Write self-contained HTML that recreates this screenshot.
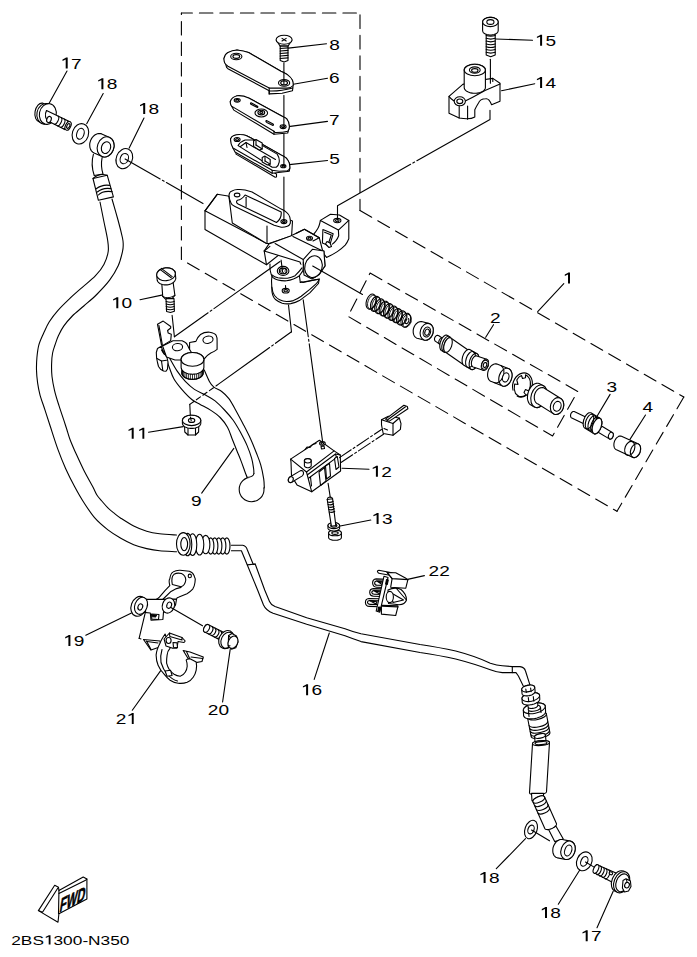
<!DOCTYPE html>
<html><head><meta charset="utf-8"><style>
html,body{margin:0;padding:0;background:#fff;}
svg{display:block;}
text{font-family:"Liberation Sans",sans-serif;fill:#000;stroke:none;}
.d{stroke-dasharray:13.5 7;}
.c{stroke-dasharray:40 2.5 2.5 2.5;}
.t{stroke-width:0.8;}
.n{stroke:none;}
.h{stroke-dasharray:5 3;}
</style></head><body>
<svg width="697" height="957" viewBox="0 0 697 957" fill="none" stroke="#000" stroke-width="1.1" stroke-linejoin="round" stroke-linecap="round">
<polyline points="181.4,13 360,13" stroke-dasharray="13.5 7" stroke-dashoffset="2.5"/>
<polyline points="360,13 360,210.5" stroke-dasharray="13.5 7" stroke-dashoffset="18.6"/>
<polyline points="360,210.5 683.8,397" stroke-dasharray="13.5 7" stroke-dashoffset="0"/>
<polyline points="683.8,397 617,511.3" stroke-dasharray="13.5 7" stroke-dashoffset="0"/>
<polyline points="181.4,259.5 617,511.3" stroke-dasharray="13.5 7" stroke-dashoffset="13.5"/>
<polyline points="181.4,13 181.4,259.5" stroke-dasharray="13.5 7" stroke-dashoffset="12"/>
<polyline points="370.1,273.1 577.7,391.4 552.6,436 348,316.3 370.1,273.1" class="d"/>
<path d="M100,202 C100.7,205.3 102.7,215.7 104,222 C105.3,228.3 106.9,235.1 107.6,240 C108.3,244.9 108.8,247.4 108.2,251.5 C107.6,255.6 106.1,260.3 103.9,264.4 C101.8,268.5 98.9,272.1 95.3,275.9 C91.7,279.7 86.6,283.5 82.3,287.3 C78,291.1 73.5,295 69.4,298.8 C65.4,302.6 61.4,306.5 58,310.3 C54.6,314.1 51.7,318 49.3,321.8 C46.9,325.6 45.5,329.1 43.7,333 C42,336.9 39.9,341 38.8,345.1 C37.7,349.2 37.3,353.5 36.9,357.7 C36.5,361.9 36.4,366 36.5,370.2 C36.6,374.4 37,378.6 37.6,382.8 C38.2,387 38.9,390.7 40.1,395.3 C41.4,399.9 43.4,405.1 45.1,410.4 C46.8,415.7 48.4,420.5 50.5,427 C52.6,433.5 55.4,442.4 57.9,449.4 C60.4,456.3 62.9,462.5 65.7,468.7 C68.5,474.9 71.7,481.2 74.7,486.8 C77.7,492.4 80.3,497.1 83.7,502.3 C87.1,507.5 91,513.6 95,518.2 C99,522.8 103.6,526.5 107.9,529.9 C112.2,533.2 116.5,535.8 120.8,538.3 C125.1,540.8 129.4,543 133.7,544.7 C138,546.4 142.4,547.6 146.7,548.6 C151,549.6 154.6,550.3 159.6,550.8 C164.6,551.3 173.7,551.6 176.5,551.8"/>
<path d="M112,199 C113,202.5 116.2,213.5 118,220 C119.8,226.5 121.6,233.8 122.5,238 C123.4,242.2 123.2,242.8 123.2,245 C123.2,247.2 123.3,248 122.5,251.5 C121.7,255 120.4,261 118.2,265.8 C116,270.6 113.2,275.4 109.6,280.2 C106,285 101,290.2 96.7,294.5 C92.4,298.8 87.9,302.4 83.8,306 C79.7,309.6 75.6,312.6 72.3,316 C69,319.4 66,322.9 63.7,326.1 C61.4,329.4 60,332.4 58.5,335.5 C57,338.6 56,342.1 55,345 C54,347.9 53.2,349.9 52.6,353 C52,356.1 51.7,360 51.6,363.9 C51.5,367.8 51.5,372.1 52,376.5 C52.5,380.9 53.4,385.5 54.5,390.3 C55.6,395.1 57.3,400.4 58.9,405.4 C60.5,410.4 62.5,416.3 63.9,420.4 C65.2,424.5 66,426.7 67,430 C68,433.3 68.9,436.6 70.2,440 C71.5,443.4 72.5,445.7 74.7,450.7 C77,455.7 80.7,464 83.7,470 C86.7,476 90.6,482.6 92.8,486.8 C95,491 95.4,492.6 96.9,495 C98.4,497.4 100,498.9 101.8,501 C103.6,503.1 106,506 107.9,507.9 C109.8,509.8 111.2,510.9 113.4,512.6 C115.6,514.3 117.4,516 120.8,518.2 C124.2,520.4 129.4,523.8 133.7,526 C138,528.2 142.4,529.9 146.7,531.2 C151,532.5 154.6,533.1 159.6,533.7 C164.6,534.3 173.7,534.8 176.5,535"/>
<path d="M231.4,545.2 L242.7,545.2 Q246,545.6 247.2,549.5 L253.3,564.5 L255.2,564 L264.7,590 L269.5,601.5 Q271,605 275,606.6 L306.7,617.8 L345,628.7 Q352,631.5 361,633.7 L420,644.5 Q440,647.5 455.7,651 Q475,656 490.3,663.2 Q497,665.5 502.3,665.8 L512.3,666.6 L520,666.6 Q524.4,667 525.5,671 L530.4,686.3"/>
<path d="M231.4,550.7 L241.4,550.7 L247.1,564.5 L257.6,590 L263.5,605 Q266,610.5 273.1,613.2 L306.7,624.2 L345,635.8 Q352,638.5 361,641.6 L420,652.5 Q440,655.5 455.7,659 Q475,664 490.3,669.8 Q497,672.4 502.3,672.6 L512.3,672.6 L516,672.6 L518.4,676 L523.4,686.3"/>
<line x1="512.3" y1="666.6" x2="512.3" y2="672.6"/>
<line x1="247.3" y1="564.9" x2="255.2" y2="564"/>
<path d="M67.7,57.6 L67.7,68.6 L65.7,68.6 L65.7,59.6 L62.5,60.9 L62.5,59.6 L65.4,58.1 L66,57.6Z" fill="#000" stroke="none"/>
<text transform="translate(71,68.6) scale(1.235,1)" font-size="15.45">7</text>
<path d="M103.4,78.2 L103.4,89.2 L101.4,89.2 L101.4,80.2 L98.2,81.5 L98.2,80.2 L101.1,78.7 L101.7,78.2Z" fill="#000" stroke="none"/>
<text transform="translate(106.7,89.2) scale(1.235,1)" font-size="15.45">8</text>
<path d="M145.2,102.9 L145.2,113.9 L143.2,113.9 L143.2,104.9 L140,106.2 L140,104.9 L142.9,103.4 L143.5,102.9Z" fill="#000" stroke="none"/>
<text transform="translate(148.5,113.9) scale(1.235,1)" font-size="15.45">8</text>
<text transform="translate(329.2,49.5) scale(1.235,1)" font-size="15.45">8</text>
<text transform="translate(329.1,82.6) scale(1.235,1)" font-size="15.45">6</text>
<text transform="translate(329.1,125.4) scale(1.235,1)" font-size="15.45">7</text>
<text transform="translate(329.3,163.6) scale(1.235,1)" font-size="15.45">5</text>
<path d="M542.1,34.8 L542.1,45.8 L540.1,45.8 L540.1,36.8 L536.9,38.1 L536.9,36.8 L539.8,35.3 L540.4,34.8Z" fill="#000" stroke="none"/>
<text transform="translate(545.4,45.8) scale(1.235,1)" font-size="15.45">5</text>
<path d="M542.1,76.9 L542.1,87.9 L540.1,87.9 L540.1,78.9 L536.9,80.2 L536.9,78.9 L539.8,77.4 L540.4,76.9Z" fill="#000" stroke="none"/>
<text transform="translate(545.4,87.9) scale(1.235,1)" font-size="15.45">4</text>
<path d="M570,272.6 L570,283.6 L568,283.6 L568,274.6 L564.8,275.9 L564.8,274.6 L567.7,273.1 L568.3,272.6Z" fill="#000" stroke="none"/>
<text transform="translate(490,323) scale(1.235,1)" font-size="15.45">2</text>
<text transform="translate(606.5,392) scale(1.235,1)" font-size="15.45">3</text>
<text transform="translate(642.4,411.7) scale(1.235,1)" font-size="15.45">4</text>
<path d="M118.3,297.2 L118.3,308.2 L116.3,308.2 L116.3,299.2 L113.1,300.5 L113.1,299.2 L116,297.7 L116.6,297.2Z" fill="#000" stroke="none"/>
<text transform="translate(121.6,308.2) scale(1.235,1)" font-size="15.45">0</text>
<path d="M133.7,427.8 L133.7,438.8 L131.7,438.8 L131.7,429.8 L128.5,431.1 L128.5,429.8 L131.4,428.3 L132,427.8Z" fill="#000" stroke="none"/>
<path d="M144.3,427.8 L144.3,438.8 L142.4,438.8 L142.4,429.8 L139.1,431.1 L139.1,429.8 L142,428.3 L142.6,427.8Z" fill="#000" stroke="none"/>
<text transform="translate(191.1,505.6) scale(1.235,1)" font-size="15.45">9</text>
<path d="M377.9,465.8 L377.9,476.8 L375.9,476.8 L375.9,467.8 L372.7,469.1 L372.7,467.8 L375.6,466.3 L376.2,465.8Z" fill="#000" stroke="none"/>
<text transform="translate(381.2,476.8) scale(1.235,1)" font-size="15.45">2</text>
<path d="M378.6,512.9 L378.6,523.9 L376.6,523.9 L376.6,514.9 L373.4,516.2 L373.4,514.9 L376.3,513.4 L376.9,512.9Z" fill="#000" stroke="none"/>
<text transform="translate(381.9,523.9) scale(1.235,1)" font-size="15.45">3</text>
<text transform="translate(428.6,575.6) scale(1.235,1)" font-size="15.45">2</text>
<text transform="translate(439.3,575.6) scale(1.235,1)" font-size="15.45">2</text>
<path d="M308.1,684.2 L308.1,695.2 L306.1,695.2 L306.1,686.2 L302.9,687.5 L302.9,686.2 L305.8,684.7 L306.4,684.2Z" fill="#000" stroke="none"/>
<text transform="translate(311.4,695.2) scale(1.235,1)" font-size="15.45">6</text>
<path d="M70.4,635.1 L70.4,646.1 L68.4,646.1 L68.4,637.1 L65.2,638.4 L65.2,637.1 L68.1,635.6 L68.7,635.1Z" fill="#000" stroke="none"/>
<text transform="translate(73.7,646.1) scale(1.235,1)" font-size="15.45">9</text>
<text transform="translate(207.8,715.3) scale(1.235,1)" font-size="15.45">2</text>
<text transform="translate(218.5,715.3) scale(1.235,1)" font-size="15.45">0</text>
<text transform="translate(115.8,724) scale(1.235,1)" font-size="15.45">2</text>
<path d="M133.7,713 L133.7,724 L131.8,724 L131.8,715 L128.5,716.3 L128.5,715 L131.4,713.5 L132,713Z" fill="#000" stroke="none"/>
<path d="M485.6,871.9 L485.6,882.9 L483.6,882.9 L483.6,873.9 L480.4,875.2 L480.4,873.9 L483.3,872.4 L483.9,871.9Z" fill="#000" stroke="none"/>
<text transform="translate(488.9,882.9) scale(1.235,1)" font-size="15.45">8</text>
<path d="M547,907.1 L547,918.1 L545,918.1 L545,909.1 L541.8,910.4 L541.8,909.1 L544.7,907.6 L545.3,907.1Z" fill="#000" stroke="none"/>
<text transform="translate(550.3,918.1) scale(1.235,1)" font-size="15.45">8</text>
<path d="M587.7,930.3 L587.7,941.3 L585.7,941.3 L585.7,932.3 L582.5,933.6 L582.5,932.3 L585.4,930.8 L586,930.3Z" fill="#000" stroke="none"/>
<text transform="translate(591,941.3) scale(1.235,1)" font-size="15.45">7</text>
<text transform="translate(11.2,944.6) scale(1.3,1)" font-size="13.3">2</text>
<text transform="translate(20.8,944.6) scale(1.3,1)" font-size="13.3">B</text>
<text transform="translate(32.4,944.6) scale(1.3,1)" font-size="13.3">S</text>
<path d="M50.5,935.2 L50.5,944.6 L48.7,944.6 L48.7,936.8 L45.8,938 L45.8,936.8 L48.4,935.6 L48.9,935.2Z" fill="#000" stroke="none"/>
<text transform="translate(53.5,944.6) scale(1.3,1)" font-size="13.3">3</text>
<text transform="translate(63.1,944.6) scale(1.3,1)" font-size="13.3">0</text>
<text transform="translate(72.8,944.6) scale(1.3,1)" font-size="13.3">0</text>
<text transform="translate(82.4,944.6) scale(1.3,1)" font-size="13.3">-</text>
<text transform="translate(88.1,944.6) scale(1.3,1)" font-size="13.3">N</text>
<text transform="translate(100.6,944.6) scale(1.3,1)" font-size="13.3">3</text>
<text transform="translate(110.2,944.6) scale(1.3,1)" font-size="13.3">5</text>
<text transform="translate(119.8,944.6) scale(1.3,1)" font-size="13.3">0</text>
<line x1="49" y1="103.5" x2="67" y2="71"/>
<line x1="86.7" y1="123.7" x2="103.2" y2="93.6"/>
<line x1="129.2" y1="148.1" x2="144" y2="118"/>
<line x1="288.3" y1="48.1" x2="326.5" y2="43.7"/>
<line x1="293.3" y1="84.2" x2="327.5" y2="78.2"/>
<line x1="290.3" y1="126.4" x2="327.5" y2="121.4"/>
<line x1="289.3" y1="164.6" x2="327.5" y2="160.5"/>
<line x1="495.8" y1="39" x2="532.5" y2="40.2"/>
<line x1="501.5" y1="90.7" x2="534.8" y2="83.8"/>
<line x1="140" y1="299.7" x2="161.8" y2="295.1"/>
<line x1="148.5" y1="432.2" x2="183.3" y2="426.6"/>
<line x1="201.7" y1="493.1" x2="233.8" y2="448.4"/>
<line x1="342.1" y1="468.2" x2="369" y2="469.3"/>
<line x1="338.9" y1="526.3" x2="370.8" y2="520"/>
<line x1="407.6" y1="579.4" x2="424.4" y2="575.6"/>
<line x1="314.2" y1="679.4" x2="329.3" y2="633"/>
<line x1="85.8" y1="635.3" x2="131.5" y2="612.9"/>
<line x1="230.2" y1="649.3" x2="222.6" y2="702"/>
<line x1="132.3" y1="710.2" x2="160.7" y2="670.6"/>
<line x1="496.3" y1="868.7" x2="525.5" y2="838.7"/>
<line x1="558.3" y1="904.2" x2="579.6" y2="870.2"/>
<line x1="597" y1="927.8" x2="613.2" y2="891.2"/>
<line x1="610.1" y1="394.4" x2="595.4" y2="419"/>
<line x1="645.5" y1="415" x2="629.8" y2="439.6"/>
<ellipse cx="41" cy="112.5" rx="6" ry="9.5" fill="#fff" transform="rotate(10 41 112.5)"/>
<ellipse cx="45.3" cy="113.8" rx="8.4" ry="10.4" fill="#fff" transform="rotate(12 45.3 113.8)"/>
<ellipse cx="47.8" cy="114" rx="8.4" ry="10.4" fill="#fff" transform="rotate(12 47.8 114)"/>
<polygon points="46.5,110.6 69.9,121.7 71.3,126 64.8,129.6 50.9,122.6 45.6,116.9" class="n" fill="#fff"/>
<line x1="46.5" y1="110.6" x2="69.9" y2="121.7"/>
<line x1="50.9" y1="122.6" x2="64.8" y2="129.6"/>
<path d="M46.5,110.6 Q44.8,113.5 45.6,117 Q47,121.5 50.9,122.6"/>
<ellipse cx="49" cy="119.5" rx="2.2" ry="3.2" fill="#fff" transform="rotate(20 49 119.5)"/>
<path d="M58.2,116.2 A2,4.5 25.4 0 1 54.4,124.3"/>
<path d="M61.3,117.7 A2,4.5 25.4 0 1 57.5,125.8"/>
<path d="M64.4,119.2 A2,4.5 25.4 0 1 60.6,127.3"/>
<path d="M67.3,120.6 A2,4.5 25.4 0 1 63.5,128.7"/>
<ellipse cx="68.1" cy="125.9" rx="2.6" ry="4.6" fill="#fff" transform="rotate(25.4 68.1 125.9)"/>
<ellipse cx="68.3" cy="126" rx="1.4" ry="2.5" fill="#fff" transform="rotate(25.4 68.3 126)"/>
<ellipse cx="80.4" cy="133.8" rx="8.1" ry="10.4" fill="#fff" transform="rotate(18 80.4 133.8)"/>
<ellipse cx="80.4" cy="133.8" rx="3.6" ry="5.6" fill="#fff" transform="rotate(18 80.4 133.8)"/>
<polygon points="89.7,144.7 89.8,143.4 90.1,142.1 90.5,140.8 91,139.6 91.7,138.4 92.4,137.3 93.3,136.3 94.2,135.5 95.2,134.8 96.3,134.2 97.4,133.8 98.5,133.6 99.6,133.5 100.7,133.6 101.7,133.9 109.1,137.2 110.1,137.7 111,138.3 111.8,139 112.5,139.9 113.1,140.9 113.5,142 113.9,143.2 114,144.5 114.1,145.8 114,147.1 113.7,148.4 113.3,149.7 112.8,150.9 112.1,152.1 111.4,153.2 110.5,154.2 109.6,155 108.6,155.7 107.5,156.3 106.4,156.7 105.3,156.9 104.2,157 103.1,156.9 102.1,156.6 94.7,153.3 93.7,152.8 92.8,152.2 92,151.5 91.3,150.6 90.7,149.6 90.3,148.5 89.9,147.3 89.8,146" fill="#fff"/>
<ellipse cx="105.6" cy="146.9" rx="8.2" ry="10.3" fill="#fff" transform="rotate(20 105.6 146.9)"/>
<ellipse cx="106" cy="147.6" rx="4.5" ry="6" fill="#fff" transform="rotate(20 106 147.6)"/>
<path d="M93.4,154.3 Q90.5,164 94.2,175.5 L103,174 Q100.5,166 102.1,157.6"/>
<polygon points="93,178.5 107.2,175.2 113.4,196.9 98.4,200.3" fill="#fff"/>
<path d="M93,178.5 Q99,173 107.2,175.2"/>
<path d="M96.2,188.8 Q102.5,184.2 109.6,185.4"/>
<path d="M97.32000000000001,192.0 Q102.5,187.39999999999998 110.88,188.6"/>
<path d="M98.37,195.0 Q102.5,190.39999999999998 112.08,191.6"/>
<ellipse cx="124.3" cy="158.6" rx="8" ry="10.4" fill="#fff" transform="rotate(22 124.3 158.6)"/>
<ellipse cx="124.3" cy="158.6" rx="4" ry="5.3" fill="#fff" transform="rotate(22 124.3 158.6)"/>
<polyline points="125.1,158.9 203,203.6" stroke-dasharray="40.4 2.6 2 2.6 92.2 1"/>
<polygon points="224,58.4 226.6,67.4 227.9,68.7 269.2,90.7 269.2,93.9 282.1,93.3 292.5,90.7 293.1,85.5 292.5,80.4 287.3,74.6 280.9,71.3 248.6,52.6 237,50 227.9,52.6" fill="#fff"/>
<path d="M224,58.4 Q225,54 227.9,52.6 Q232,50 237,50 Q244,50.5 248.6,52.6 L280.9,71.3 Q285,73 287.3,74.6 Q291.5,77.5 292.5,80.4 Q293.5,83.5 293.1,85.5 Q291,88 287.3,88.1 L269.2,88.1 L227.9,66.2 Q225,64 224.7,62.9 Q223.8,60.5 224,58.4 Z" fill="#fff"/>
<line x1="269.2" y1="88.1" x2="269.2" y2="93.9"/>
<path d="M269.2,91 Q280,91.5 292.8,88"/>
<ellipse cx="236.3" cy="56.5" rx="5.6" ry="3.2" fill="#fff"/>
<ellipse cx="236.3" cy="56.5" rx="3.4" ry="1.9" fill="#fff"/>
<ellipse cx="284.1" cy="82.9" rx="5.6" ry="3.3" fill="#fff"/>
<ellipse cx="284.1" cy="82.9" rx="3.4" ry="2" fill="#fff"/>
<polygon points="230.3,101.5 231.5,106.1 233.8,110.1 274,134.2 287.7,133 289.4,126.7 286.6,118.7 282.6,116.4 248.7,98 237.2,95.7" fill="#fff"/>
<path d="M230.3,101.5 Q231.5,97 237.2,95.7 Q243,95.2 248.7,98 L282.6,116.4 Q285.5,117.5 286.6,118.7 Q289.5,122 289.4,126.7 Q289,130 287.7,131.3 Q283,132.6 275.1,132.5 L274,131.3 L231.5,106.1 Q230,104 230.3,101.5 Z" fill="#fff"/>
<line x1="274" y1="131.3" x2="274" y2="134.2"/>
<ellipse cx="237.2" cy="100.3" rx="3" ry="1.8" fill="#fff"/>
<ellipse cx="237.2" cy="100.3" rx="1.5" ry="0.9" fill="#fff"/>
<ellipse cx="283.1" cy="126.7" rx="3" ry="1.9" fill="#fff"/>
<ellipse cx="283.1" cy="126.7" rx="1.5" ry="0.9" fill="#fff"/>
<ellipse cx="261.3" cy="113" rx="6.3" ry="4" fill="#fff"/>
<ellipse cx="261.3" cy="112.6" rx="3.4" ry="2.3" fill="#fff"/>
<ellipse cx="261.3" cy="112.4" rx="1.5" ry="1" fill="#fff"/>
<path d="M251,102.8 L257,106 Q258.6,107 257.4,107.6 L251.4,104.6 Q249.8,103.4 251,102.8Z"/>
<path d="M266.4,120.6 L272.6,123.8 Q274.2,124.8 273,125.4 L266.8,122.4 Q265.2,121.2 266.4,120.6Z"/>
<polygon points="236,154.1 275.2,177.2 276.5,177 276.5,174 236,151" fill="#fff"/>
<polygon points="230.5,139 233,148.1 235,152.1 272.2,173.2 289.3,171.2 289.8,168.2 289.3,163.1 286.3,158.1 281.2,155.1 251.1,138 246.1,135.5 240.1,134.5 234,135.5" fill="#fff"/>
<path d="M230.5,139 Q231.5,136 234,135.5 Q237,134.3 240.1,134.5 Q243.5,134.6 246.1,135.5 L251.1,138 L281.2,155.1 Q284.5,156.5 286.3,158.1 Q288.5,160.5 289.3,163.1 Q290,166 289.8,168.2 Q289,170.3 287.3,170.7 L279.2,171.2 L272.2,170.2 L233,148.1 Q230.5,144 230.5,139 Z" fill="#fff"/>
<line x1="272.2" y1="170.2" x2="272.2" y2="173.2"/>
<path d="M238.1,145.6 Q240.5,141.5 245.1,140 L253.1,140 L277.2,154.1 Q279.8,158 279.2,162.1 Q278.5,165.8 276.2,167.2 L272.2,167.2 Z" fill="#fff"/>
<polyline points="240.5,146.5 246,142.5 247,147.5"/>
<line x1="246" y1="142.5" x2="275.5" y2="159.5"/>
<polygon points="253.6,141 256,139.5 262.2,143 262.2,149 259.5,150.1 253.6,146.5" fill="#fff"/>
<line x1="256" y1="145" x2="262.2" y2="149"/>
<line x1="256" y1="145" x2="256" y2="140"/>
<polygon points="262.2,157.5 265,156.1 270.2,159.5 270.2,164.1 267.5,165 262.2,162" fill="#fff"/>
<line x1="265" y1="161" x2="270.2" y2="164.1"/>
<line x1="265" y1="161" x2="265" y2="156.5"/>
<ellipse cx="237.1" cy="139.5" rx="3" ry="2" fill="#fff"/>
<ellipse cx="237.1" cy="139.5" rx="1.5" ry="1" fill="#fff"/>
<ellipse cx="283.3" cy="166.2" rx="2.6" ry="1.6" fill="#fff"/>
<ellipse cx="283.3" cy="166.2" rx="1.2" ry="0.8" fill="#fff"/>
<polygon points="276.3,40.2 291.8,40.2 288,46.1 280.2,46.1" fill="#fff"/>
<polygon points="280.2,46.1 288,46.1 288,60.5 284.1,62 280.2,60.5" fill="#fff"/>
<line x1="280.2" y1="48.5" x2="288" y2="47.9"/>
<line x1="280.2" y1="51" x2="288" y2="50.4"/>
<line x1="280.2" y1="53.5" x2="288" y2="52.9"/>
<line x1="280.2" y1="56" x2="288" y2="55.4"/>
<line x1="280.2" y1="58.5" x2="288" y2="57.9"/>
<ellipse cx="284.1" cy="39.7" rx="8" ry="4.5" fill="#fff"/>
<line x1="282" y1="38.4" x2="286.2" y2="41"/>
<line x1="282" y1="41" x2="286.2" y2="38.4"/>
<path d="M320.4,220.4 L330.5,214.3 L339.4,215 L348.8,220.4 L348.8,238.7 Q347,243 345.2,245.2 Q341.5,249 337.3,251.6 Q332,255 326.5,257.4 L318,246 L313.6,234.4 Q316.5,230.8 317.5,229 Q319.3,226.5 320.4,220.4 Z" fill="#fff"/>
<polyline points="320.4,220.4 338.4,230.1 348.8,220.4"/>
<path d="M338.4,230.1 L338.7,235.8 Q337.5,239 335.8,240.9 Q334,243 332.3,244.1"/>
<ellipse cx="337.3" cy="220.6" rx="3.6" ry="2.2" fill="#fff"/>
<ellipse cx="337.3" cy="220.6" rx="1.8" ry="1.1" fill="#fff"/>
<polygon points="322.9,229.5 333.2,233.7 329.6,245.9 322.4,243" fill="#fff"/>
<polyline points="324.6,232.2 331.3,235 328.5,243.2"/>
<polygon points="325.5,244 327,241.5 330,243 331.5,246.5 329,247.5" fill="#fff"/>
<polygon points="217.2,194.3 228,196 290,230 290,246 266.5,264.8 205,229.5 205,210.8" fill="#fff"/>
<line x1="205" y1="210.8" x2="266" y2="243"/>
<polyline points="217.2,194.3 205,210.8"/>
<polygon points="229,197 232.3,223 266.5,243.5 268.9,243.5 291.6,236 292.5,221" fill="#fff"/>
<line x1="267" y1="226" x2="267" y2="243.3"/>
<path d="M229,195 Q229.5,191.5 232,191 Q235,189.3 238.1,189.5 Q242,189.3 245.1,190 L252.1,192 L281.2,209.1 Q284.5,210.5 286.3,212.1 Q289.3,214.5 289.8,217.1 Q290.6,220.5 290.3,223.2 Q289.5,225.5 287.3,226.2 Q284,227.5 281.2,227.2 L274.2,225.2 L235,206.6 Q231.5,205 231,203.1 Q229,199 229,195 Z" fill="#fff"/>
<path d="M245.1,195 L281.2,212.1 Q281.8,218.5 276.5,222.5 L238.1,204.1 Q235.3,202 237.5,200.2 Q241.8,199.8 245.1,195 Z" fill="#fff"/>
<line x1="246.1" y1="197.3" x2="246.1" y2="206.6"/>
<ellipse cx="237.1" cy="195" rx="2.8" ry="1.9" fill="#fff"/>
<ellipse cx="283.9" cy="221.6" rx="3" ry="2" fill="#fff"/>
<ellipse cx="283.9" cy="221.6" rx="1.4" ry="1" fill="#fff"/>
<polygon points="264.2,251 268.8,244.1 290.6,236.1 296.3,233.2 304.4,229.2 319.3,237.8 322.7,251 323.9,251 325,265.9 319.3,274 303.2,272 300,262" fill="#fff"/>
<line x1="275.1" y1="243.5" x2="303.2" y2="259.6"/>
<line x1="292.9" y1="236.6" x2="322.7" y2="251"/>
<line x1="264.2" y1="251" x2="266.5" y2="264.8"/>
<line x1="264.2" y1="251" x2="269.9" y2="246.4"/>
<polyline points="296.3,233.2 304.4,229.2 319.3,237.8 313,241"/>
<ellipse cx="309.5" cy="238.2" rx="3" ry="2" fill="#fff"/>
<ellipse cx="309.5" cy="238.2" rx="1.5" ry="1" fill="#fff"/>
<polygon points="303.2,259.6 312.4,249.3 323.9,251 325,265.9 319.3,274.5 312,279 304,275" fill="#fff"/>
<ellipse cx="313.5" cy="266.6" rx="8.6" ry="11" fill="#fff" transform="rotate(15 313.5 266.6)"/>
<path d="M271.5,280.8 L272,292 Q273,297.5 275.5,299.5 Q278.5,302 282.2,303.2 Q286,304.3 290.8,303.6 Q295.5,302.8 299.4,300.6 L309.8,292.9 L318.5,283.5 L319.2,279.1 L300.3,282.5 L299.4,275.7 L272,276 Z" fill="#fff"/>
<path d="M271.8,287 Q272.5,292.5 274.5,295.5 Q277,298.5 279.6,299.8 Q283,301.5 286.5,301.5 Q290,301.5 293.4,300.6 Q297.5,299 301.2,296.3 L309.8,289.4 L316.6,283.4 Q318.5,281 319.2,279.1"/>
<path d="M300.3,282.5 Q301.5,281 303,282.5 L316.5,279.5"/>
<ellipse cx="285.7" cy="290.7" rx="3.5" ry="2.3" fill="#fff"/>
<ellipse cx="285.7" cy="290.7" rx="1.8" ry="1.1" fill="#fff"/>
<line x1="285.7" y1="289.5" x2="285.5" y2="285.5"/>
<path d="M270.2,270.5 Q271,275 272.7,277.4 Q275,279.5 277.9,280 Q282,281 286.5,280.8 Q290,280.5 293.4,279.1 Q297,277.5 299.4,275.7 Q301.5,273 302.9,270.5 Q303.5,268 303.3,265.3 L281,259.5 L270,266 Z" class="n" fill="#fff"/>
<path d="M270,264 Q269.8,267.5 270.2,270.5 Q271,275 272.7,277.4 Q275,279.5 277.9,280 Q282,281 286.5,280.8 Q290,280.5 293.4,279.1 Q297,277.5 299.4,275.7 Q301.5,273 302.9,270.5 Q303.5,268 303.3,262.5"/>
<path d="M271.9,274.8 Q274.5,277 277.9,277.8 Q282,278.5 287.4,278.2 Q291.5,277.5 295.1,275.7 Q299,272 302,267.9"/>
<ellipse cx="283.1" cy="270.9" rx="5.8" ry="4.5" fill="#fff"/>
<ellipse cx="283.1" cy="270.9" rx="3.8" ry="2.8" fill="#fff"/>
<line x1="285.3" y1="270.9" x2="286.7" y2="270.9" class="t"/>
<line x1="284.8" y1="271.9" x2="285.9" y2="272.6" class="t"/>
<line x1="283.5" y1="272.5" x2="283.7" y2="273.5" class="t"/>
<line x1="282" y1="272.3" x2="281.3" y2="273.2" class="t"/>
<line x1="281" y1="271.4" x2="279.7" y2="271.8" class="t"/>
<line x1="281" y1="270.4" x2="279.7" y2="270" class="t"/>
<line x1="282" y1="269.5" x2="281.3" y2="268.6" class="t"/>
<line x1="283.5" y1="269.3" x2="283.7" y2="268.3" class="t"/>
<line x1="284.8" y1="269.9" x2="285.9" y2="269.2" class="t"/>
<line x1="281.1" y1="260.1" x2="282.6" y2="272.1"/>
<line x1="288.5" y1="305" x2="291.5" y2="332"/>
<polyline points="303.2,299.7 322.7,442.4" stroke-dasharray="37.4 2.6 2 2.6 149.4 1"/>
<line x1="312.7" y1="266.1" x2="362.5" y2="294.4"/>
<polyline points="337.5,220.1 337.5,205.7 490,119.4 490,110.2" stroke-dasharray="98.4 2.6 2 2.6 143.2 1"/>
<path d="M449,96.4 L462.8,84.4 L478,80.5 L492.8,78.4 L500,83.2 L500,101.2 L491.6,104.8 Q489,98 485.6,98.8 Q480,99 478.5,103 Q476,107 474.8,109.7 L474.8,117 Q470,120 459.2,118 L449,113.3 Z" fill="#fff"/>
<path d="M449,96.4 Q452,100.5 459.2,104 Q472,98 485,90.5 Q493,87 500,84"/>
<line x1="459.2" y1="104" x2="459.2" y2="118"/>
<line x1="467.6" y1="106" x2="467.6" y2="119.3"/>
<path d="M492.8,78.4 L492.8,81.5"/>
<ellipse cx="459.8" cy="101.3" rx="5.6" ry="4.5" fill="#fff"/>
<ellipse cx="459.8" cy="101.3" rx="3" ry="2.3" fill="#fff"/>
<polygon points="464.2,70 464.3,69.2 464.6,68.5 465,67.8 465.6,67.1 466.4,66.5 467.3,65.9 468.3,65.4 469.5,65 470.7,64.6 472.1,64.4 473.4,64.2 474.8,64.2 476.2,64.2 477.5,64.4 478.9,64.6 480.1,65 481.3,65.4 482.3,65.9 483.2,66.5 484,67.1 484.6,67.8 485,68.5 485.3,69.2 485.4,70 485.4,87.5 485.3,88.3 485,89 484.6,89.7 484,90.4 483.2,91 482.3,91.6 481.3,92.1 480.1,92.5 478.9,92.9 477.5,93.1 476.2,93.3 474.8,93.3 473.4,93.3 472.1,93.1 470.7,92.9 469.5,92.5 468.3,92.1 467.3,91.6 466.4,91 465.6,90.4 465,89.7 464.6,89 464.3,88.3 464.2,87.5" fill="#fff"/>
<ellipse cx="474.8" cy="70" rx="10.6" ry="5.8" fill="#fff"/>
<ellipse cx="474.8" cy="70" rx="5.4" ry="3.1" fill="#fff"/>
<ellipse cx="474.8" cy="70.4" rx="3.2" ry="1.8" fill="#fff"/>
<polygon points="486.2,32.8 495.2,32.8 495.2,55 490.7,56.8 486.2,55" fill="#fff"/>
<path d="M486.2,35.5 Q490.7,37.1 495.2,35.5"/>
<path d="M486.2,38.3 Q490.7,39.9 495.2,38.3"/>
<path d="M486.2,41.1 Q490.7,42.7 495.2,41.1"/>
<path d="M486.2,43.9 Q490.7,45.5 495.2,43.9"/>
<path d="M486.2,46.7 Q490.7,48.300000000000004 495.2,46.7"/>
<path d="M486.2,49.5 Q490.7,51.1 495.2,49.5"/>
<path d="M486.2,52.3 Q490.7,53.9 495.2,52.3"/>
<polygon points="482.6,22 482.7,21.4 482.9,20.8 483.2,20.2 483.6,19.7 484.2,19.2 484.9,18.7 485.7,18.4 486.5,18 487.4,17.8 488.4,17.6 489.4,17.4 490.4,17.4 491.4,17.4 492.4,17.6 493.4,17.8 494.3,18 495.1,18.4 495.9,18.7 496.6,19.2 497.2,19.7 497.6,20.2 497.9,20.8 498.1,21.4 498.2,22 498.2,30.5 498.1,31.1 497.9,31.7 497.6,32.3 497.2,32.8 496.6,33.3 495.9,33.8 495.1,34.1 494.3,34.5 493.4,34.7 492.4,34.9 491.4,35.1 490.4,35.1 489.4,35.1 488.4,34.9 487.4,34.7 486.5,34.5 485.7,34.1 484.9,33.8 484.2,33.3 483.6,32.8 483.2,32.3 482.9,31.7 482.7,31.1 482.6,30.5" fill="#fff"/>
<ellipse cx="490.4" cy="22" rx="7.8" ry="4.6" fill="#fff"/>
<ellipse cx="490.4" cy="22" rx="3.6" ry="2.4" fill="#fff"/>
<line x1="490.4" y1="59.2" x2="490.4" y2="83.2"/>
<ellipse cx="371" cy="301.6" rx="4.6" ry="7.8" fill="none" transform="rotate(18 371 301.6)"/>
<ellipse cx="372.1" cy="302.2" rx="4.2" ry="7.3" fill="none" transform="rotate(18 372.1 302.2)" class="t"/>
<ellipse cx="375.4" cy="303.9" rx="4.6" ry="7.7" fill="none" transform="rotate(18 375.4 303.9)"/>
<ellipse cx="376.5" cy="304.5" rx="4.2" ry="7.2" fill="none" transform="rotate(18 376.5 304.5)" class="t"/>
<ellipse cx="379.7" cy="306.2" rx="4.6" ry="7.6" fill="none" transform="rotate(18 379.7 306.2)"/>
<ellipse cx="380.8" cy="306.9" rx="4.2" ry="7.1" fill="none" transform="rotate(18 380.8 306.9)" class="t"/>
<ellipse cx="384.1" cy="308.6" rx="4.6" ry="7.6" fill="none" transform="rotate(18 384.1 308.6)"/>
<ellipse cx="385.2" cy="309.2" rx="4.2" ry="7.1" fill="none" transform="rotate(18 385.2 309.2)" class="t"/>
<ellipse cx="388.4" cy="310.9" rx="4.6" ry="7.5" fill="none" transform="rotate(18 388.4 310.9)"/>
<ellipse cx="389.5" cy="311.5" rx="4.2" ry="7" fill="none" transform="rotate(18 389.5 311.5)" class="t"/>
<ellipse cx="392.8" cy="313.2" rx="4.6" ry="7.4" fill="none" transform="rotate(18 392.8 313.2)"/>
<ellipse cx="393.9" cy="313.8" rx="4.2" ry="6.9" fill="none" transform="rotate(18 393.9 313.8)" class="t"/>
<ellipse cx="397.1" cy="315.6" rx="4.6" ry="7.3" fill="none" transform="rotate(18 397.1 315.6)"/>
<ellipse cx="398.2" cy="316.2" rx="4.2" ry="6.8" fill="none" transform="rotate(18 398.2 316.2)" class="t"/>
<ellipse cx="401.4" cy="317.9" rx="4.6" ry="7.3" fill="none" transform="rotate(18 401.4 317.9)"/>
<ellipse cx="402.6" cy="318.5" rx="4.2" ry="6.8" fill="none" transform="rotate(18 402.6 318.5)" class="t"/>
<ellipse cx="405.8" cy="320.2" rx="4.6" ry="7.2" fill="none" transform="rotate(18 405.8 320.2)"/>
<ellipse cx="406.9" cy="320.8" rx="4.2" ry="6.7" fill="none" transform="rotate(18 406.9 320.8)" class="t"/>
<path d="M408.6,318.6 A2,3 18 1 1 405.3,319.2"/>
<polygon points="413.2,331.3 413.2,330.2 413.4,329.1 413.7,328 414.1,327 414.6,326 415.2,325 415.9,324.2 416.6,323.5 417.4,322.8 418.2,322.3 419.1,321.9 419.9,321.7 420.8,321.6 421.6,321.6 422.5,321.8 429.4,323.6 430.1,323.9 430.8,324.4 431.5,325 432,325.7 432.5,326.5 432.9,327.4 433.1,328.4 433.3,329.4 433.3,330.5 433.3,331.6 433.1,332.7 432.8,333.8 432.4,334.8 431.9,335.8 431.3,336.8 430.6,337.6 429.9,338.3 429.1,339 428.3,339.5 427.4,339.9 426.6,340.1 425.7,340.2 424.9,340.2 424,340 417.1,338.2 416.4,337.9 415.7,337.4 415,336.8 414.5,336.1 414,335.3 413.6,334.4 413.4,333.4 413.2,332.4" fill="#fff"/>
<ellipse cx="426.7" cy="331.8" rx="6.4" ry="8.6" fill="#fff" transform="rotate(18 426.7 331.8)"/>
<ellipse cx="426.9" cy="332" rx="3.6" ry="5.1" fill="#fff" transform="rotate(18 426.9 332)"/>
<ellipse cx="427.1" cy="332.2" rx="2.2" ry="3.2" fill="#fff" transform="rotate(18 427.1 332.2)"/>
<polygon points="434.5,339.1 434.5,338.6 434.6,338.2 434.7,337.8 434.9,337.4 435.1,337 435.3,336.7 435.6,336.3 435.9,336.1 436.2,335.8 436.5,335.6 436.8,335.5 437.2,335.4 437.5,335.4 437.9,335.4 438.2,335.5 438.5,335.6 438.8,335.8 443.1,338.7 443.4,338.9 443.6,339.2 443.8,339.5 444,339.8 444.1,340.2 444.2,340.6 444.2,341 444.2,341.5 444.1,341.9 444,342.3 443.8,342.7 443.6,343.1 443.4,343.4 443.1,343.8 442.8,344 442.5,344.3 442.2,344.5 441.9,344.6 441.5,344.7 441.2,344.7 440.8,344.7 440.5,344.6 440.2,344.5 439.9,344.3 435.6,341.4 435.3,341.2 435.1,340.9 434.9,340.6 434.7,340.3 434.6,339.9 434.5,339.5" fill="#fff"/>
<ellipse cx="441.5" cy="341.5" rx="2.6" ry="3.3" fill="#fff" transform="rotate(18 441.5 341.5)"/>
<polygon points="439.8,345.8 439.8,344.8 440,343.8 440.2,342.7 440.5,341.7 440.9,340.7 441.3,339.7 441.8,338.8 442.3,338 442.9,337.2 443.5,336.6 444.1,336 444.7,335.6 445.3,335.3 445.9,335.1 446.5,335.1 447,335.2 447.5,335.4 449.5,336.6 450,337 450.4,337.5 450.7,338.1 450.9,338.8 451.1,339.6 451.2,340.5 451.2,341.4 451.2,342.4 451,343.4 450.8,344.5 450.5,345.5 450.1,346.5 449.7,347.5 449.2,348.4 448.7,349.2 448.1,350 447.5,350.6 446.9,351.2 446.3,351.6 445.7,351.9 445.1,352.1 444.5,352.1 444,352 443.5,351.8 441.5,350.6 441,350.2 440.6,349.7 440.3,349.1 440.1,348.4 439.9,347.6 439.8,346.7" fill="#fff"/>
<ellipse cx="446.5" cy="344.2" rx="4.2" ry="8.2" fill="#fff" transform="rotate(18 446.5 344.2)"/>
<polygon points="443.7,347.6 443.8,346.7 443.9,345.7 444.1,344.8 444.4,343.8 444.7,342.9 445.1,342 445.6,341.1 446,340.4 446.6,339.7 447.1,339.1 447.7,338.6 448.2,338.2 448.8,337.9 449.3,337.7 449.9,337.7 450.3,337.8 450.8,338 468.8,350.5 469.2,350.8 469.6,351.3 469.8,351.8 470.1,352.5 470.2,353.2 470.3,354 470.3,354.9 470.2,355.8 470.1,356.8 469.9,357.7 469.6,358.7 469.3,359.6 468.9,360.5 468.4,361.4 468,362.1 467.4,362.8 466.9,363.4 466.3,363.9 465.8,364.3 465.2,364.6 464.7,364.8 464.1,364.8 463.7,364.7 463.2,364.5 445.2,352 444.8,351.7 444.4,351.2 444.2,350.7 443.9,350 443.8,349.3 443.7,348.5" fill="#fff"/>
<ellipse cx="448" cy="345" rx="3.8" ry="7.6" fill="#fff" transform="rotate(18 448 345)"/>
<polygon points="462.1,360.3 462.1,359.3 462.3,358.3 462.5,357.2 462.8,356.1 463.2,355.1 463.6,354.1 464.1,353.2 464.7,352.3 465.3,351.6 465.9,350.9 466.5,350.3 467.2,349.9 467.8,349.6 468.4,349.4 469,349.4 469.6,349.5 470.1,349.8 477.1,353.8 477.6,354.1 478,354.6 478.3,355.3 478.6,356 478.8,356.8 478.9,357.7 478.9,358.7 478.9,359.7 478.7,360.7 478.5,361.8 478.2,362.9 477.8,363.9 477.4,364.9 476.9,365.8 476.3,366.7 475.7,367.4 475.1,368.1 474.5,368.7 473.8,369.1 473.2,369.4 472.6,369.6 472,369.6 471.4,369.5 470.9,369.2 463.9,365.2 463.4,364.9 463,364.4 462.7,363.7 462.4,363 462.2,362.2 462.1,361.3" fill="#fff"/>
<ellipse cx="474" cy="361.5" rx="4.4" ry="8.4" fill="#fff" transform="rotate(18 474 361.5)"/>
<ellipse cx="470.5" cy="359.6" rx="4.4" ry="8.4" fill="none" transform="rotate(18 470.5 359.6)"/>
<polygon points="471.4,363.4 471.4,362.7 471.5,361.9 471.7,361.2 471.9,360.5 472.1,359.8 472.4,359.1 472.8,358.4 473.2,357.9 473.6,357.3 474,356.9 474.5,356.5 475,356.2 475.5,356 475.9,355.9 476.4,355.9 476.8,356 486.7,359.3 487.1,359.5 487.4,359.7 487.8,360.1 488,360.5 488.2,361 488.4,361.6 488.5,362.3 488.5,362.9 488.5,363.6 488.4,364.4 488.2,365.1 488,365.8 487.8,366.5 487.5,367.2 487.1,367.9 486.7,368.4 486.3,369 485.9,369.4 485.4,369.8 484.9,370.1 484.4,370.3 484,370.4 483.5,370.4 483.1,370.3 473.2,367 472.8,366.8 472.5,366.6 472.1,366.2 471.9,365.8 471.7,365.3 471.5,364.7 471.4,364" fill="#fff"/>
<ellipse cx="484.9" cy="364.8" rx="3.3" ry="5.8" fill="#fff" transform="rotate(18 484.9 364.8)"/>
<ellipse cx="484.9" cy="364.8" rx="3.2" ry="4.6" fill="#fff" transform="rotate(18 484.9 364.8)"/>
<ellipse cx="485" cy="365" rx="1.7" ry="2.5" fill="#fff" transform="rotate(18 485 365)"/>
<polygon points="487.6,374.3 487.7,373.2 487.9,372 488.2,370.9 488.6,369.7 489.1,368.7 489.8,367.7 490.4,366.7 491.2,365.9 492,365.2 492.8,364.7 493.7,364.2 494.5,364 495.4,363.8 496.2,363.9 497,364.1 508.2,368.5 509,368.8 509.7,369.3 510.3,369.9 510.9,370.6 511.3,371.4 511.6,372.4 511.9,373.4 512,374.5 512,375.7 511.9,376.8 511.7,378 511.4,379.1 511,380.3 510.5,381.3 509.8,382.3 509.2,383.3 508.4,384.1 507.6,384.8 506.8,385.3 505.9,385.8 505.1,386 504.2,386.2 503.4,386.1 502.6,385.9 491.4,381.5 490.6,381.2 489.9,380.7 489.3,380.1 488.7,379.4 488.3,378.6 488,377.6 487.7,376.6 487.6,375.5" fill="#fff"/>
<ellipse cx="505.4" cy="377.2" rx="6.3" ry="9.2" fill="#fff" transform="rotate(18 505.4 377.2)"/>
<path d="M501.3,365.8 A6.3,9.2 18 0 1 494.1,382.6"/>
<ellipse cx="505.7" cy="377.4" rx="3.1" ry="4.7" fill="#fff" transform="rotate(18 505.7 377.4)"/>
<path d="M513,390.2 A9.6,12.3 18 1 1 517.1,396"/>
<path d="M515.5,393.5 Q513.5,389 514.6,384 L518,384.5 L516.8,380 Q518.5,376.5 521.5,375.5 L522.5,378.5 L525.5,377.8 L525.5,374.8 Q529.5,377 530.3,381.5 Q531,387 528.8,391 L525.5,389.5 L524,392.5 L526,395 Q522,397.5 518.5,396.2"/>
<path d="M515.5,393.5 L518.5,396.2"/>
<polygon points="527.4,398 527.5,396.6 527.6,395.1 527.9,393.6 528.3,392.2 528.8,390.7 529.4,389.4 530.2,388.1 531,386.9 531.9,385.9 532.9,385 533.9,384.3 535,383.8 536,383.4 537.1,383.2 538.1,383.3 539.1,383.5 540,383.9 543.3,385.7 544.1,386.3 544.9,387 545.5,387.9 546,389 546.4,390.2 546.7,391.4 546.9,392.8 546.8,394.2 546.7,395.7 546.4,397.2 546,398.6 545.5,400.1 544.9,401.4 544.1,402.7 543.3,403.9 542.4,404.9 541.4,405.8 540.4,406.5 539.3,407 538.3,407.4 537.2,407.6 536.2,407.5 535.2,407.3 534.3,406.9 531,405.1 530.2,404.5 529.4,403.8 528.8,402.9 528.3,401.8 527.9,400.6 527.6,399.4" fill="#fff"/>
<ellipse cx="538.8" cy="396.3" rx="7.6" ry="11.6" fill="#fff" transform="rotate(18 538.8 396.3)"/>
<polygon points="534.3,397.3 534.3,396.2 534.5,395.1 534.8,394 535.2,392.9 535.7,391.9 536.3,391 537,390.2 537.7,389.4 538.5,388.8 539.3,388.3 540.2,387.9 541.1,387.7 542,387.6 542.8,387.6 543.7,387.8 544.4,388.2 560.4,398.3 561.2,398.7 561.8,399.3 562.4,400 562.9,400.8 563.3,401.7 563.5,402.7 563.7,403.7 563.7,404.8 563.7,405.9 563.5,407 563.2,408.1 562.8,409.2 562.3,410.2 561.7,411.1 561,411.9 560.3,412.7 559.5,413.3 558.7,413.8 557.8,414.2 556.9,414.4 556,414.5 555.2,414.5 554.3,414.3 553.6,413.9 537.6,403.8 536.8,403.4 536.2,402.8 535.6,402.1 535.1,401.3 534.7,400.4 534.5,399.4 534.3,398.4" fill="#fff"/>
<ellipse cx="557" cy="406.1" rx="6.5" ry="8.6" fill="#fff" transform="rotate(18 557 406.1)"/>
<ellipse cx="557.2" cy="406.3" rx="3.8" ry="5" fill="#fff" transform="rotate(18 557.2 406.3)"/>
<line x1="485.7" y1="337.3" x2="493.5" y2="324.7"/>
<polygon points="570.5,415.7 570.6,415.3 570.6,414.9 570.7,414.4 570.8,414 571,413.6 571.2,413.2 571.4,412.9 571.7,412.5 572,412.2 572.3,412 572.6,411.8 572.9,411.6 573.2,411.5 573.6,411.5 573.9,411.5 574.2,411.6 587.2,417.8 587.4,417.9 587.7,418.1 587.9,418.3 588.1,418.6 588.2,418.9 588.4,419.3 588.4,419.7 588.5,420.1 588.4,420.5 588.4,420.9 588.3,421.4 588.2,421.8 588,422.2 587.8,422.6 587.6,422.9 587.3,423.3 587,423.6 586.7,423.8 586.4,424 586.1,424.2 585.8,424.3 585.4,424.3 585.1,424.3 584.8,424.2 571.8,418 571.6,417.9 571.3,417.7 571.1,417.5 570.9,417.2 570.8,416.9 570.6,416.5 570.6,416.1" fill="#fff"/>
<ellipse cx="586" cy="421" rx="2.3" ry="3.4" fill="#fff" transform="rotate(20 586 421)"/>
<polygon points="595.5,429 595.5,428.5 595.6,428.1 595.7,427.6 595.8,427.2 596,426.8 596.2,426.4 596.5,426 596.7,425.7 597,425.4 597.3,425.1 597.6,424.9 598,424.8 598.3,424.7 598.6,424.6 598.9,424.6 599.2,424.7 599.5,424.8 612.3,432.5 612.5,432.7 612.7,433 612.9,433.2 613.1,433.6 613.2,433.9 613.2,434.3 613.3,434.7 613.3,435.2 613.2,435.6 613.1,436.1 613,436.5 612.8,436.9 612.6,437.3 612.3,437.7 612.1,438 611.8,438.3 611.5,438.6 611.2,438.8 610.8,438.9 610.5,439 610.2,439.1 609.9,439.1 609.6,439 609.3,438.9 596.5,431.2 596.3,431 596.1,430.7 595.9,430.5 595.7,430.1 595.6,429.8 595.6,429.4" fill="#fff"/>
<ellipse cx="610.8" cy="435.7" rx="2.3" ry="3.5" fill="#fff" transform="rotate(20 610.8 435.7)"/>
<polygon points="583.2,424.1 583.2,423.1 583.3,422.1 583.5,421.1 583.7,420.1 584.1,419.1 584.5,418.1 584.9,417.1 585.4,416.2 586,415.4 586.6,414.7 587.2,414 587.8,413.5 588.5,413.1 589.1,412.8 589.7,412.7 590.3,412.7 590.8,412.8 591.3,413 600.3,418.5 600.7,418.9 601.1,419.4 601.4,420 601.6,420.8 601.8,421.6 601.8,422.4 601.8,423.4 601.7,424.4 601.5,425.4 601.3,426.4 600.9,427.4 600.5,428.4 600.1,429.4 599.6,430.3 599,431.1 598.4,431.8 597.8,432.5 597.2,433 596.5,433.4 595.9,433.7 595.3,433.8 594.7,433.8 594.2,433.7 593.7,433.5 584.7,428 584.3,427.6 583.9,427.1 583.6,426.5 583.4,425.7 583.2,424.9" fill="#fff"/>
<ellipse cx="597" cy="426" rx="4.2" ry="8.2" fill="#fff" transform="rotate(20 597 426)"/>
<ellipse cx="589.5" cy="421.5" rx="3.6" ry="7.6" fill="none" transform="rotate(20 589.5 421.5)"/>
<ellipse cx="592.2" cy="423" rx="3.6" ry="7.6" fill="none" transform="rotate(20 592.2 423)"/>
<ellipse cx="594.9" cy="424.6" rx="3.6" ry="7.6" fill="none" transform="rotate(20 594.9 424.6)"/>
<ellipse cx="597" cy="426" rx="4.2" ry="8.2" fill="#fff" transform="rotate(20 597 426)"/>
<polygon points="613.9,445 613.9,444.1 614,443.2 614.2,442.3 614.5,441.4 614.8,440.5 615.3,439.7 615.8,438.9 616.3,438.2 616.9,437.6 617.6,437.1 618.2,436.6 618.9,436.3 619.5,436.1 620.2,436 620.9,436.1 621.5,436.2 638,443.8 638.5,444.1 639,444.5 639.5,445 639.9,445.6 640.2,446.2 640.4,447 640.6,447.8 640.6,448.6 640.6,449.5 640.5,450.4 640.3,451.3 640,452.2 639.7,453.1 639.2,453.9 638.7,454.7 638.2,455.4 637.6,456 636.9,456.5 636.3,457 635.6,457.3 635,457.5 634.3,457.6 633.6,457.5 633,457.4 616.5,449.8 616,449.5 615.5,449.1 615,448.6 614.6,448 614.3,447.4 614.1,446.6 613.9,445.8" fill="#fff"/>
<ellipse cx="635.5" cy="450.6" rx="4.8" ry="7.2" fill="#fff" transform="rotate(20 635.5 450.6)"/>
<ellipse cx="629.8" cy="448.4" rx="4.8" ry="7.2" fill="none" transform="rotate(20 629.8 448.4)"/>
<line x1="537.7" y1="311.6" x2="563.8" y2="283.6"/>
<polygon points="161.7,282 173,281.5 174.9,295.4 172,298.6 165.5,299.2 162.7,296.4" fill="#fff"/>
<path d="M162.7,296.4 Q168,299.5 174.9,295.4"/>
<polygon points="166,298.6 174,298.6 174.4,311.2 170.5,312.5 166.6,311.5" fill="#fff"/>
<path d="M166.2,301.5 Q170.2,303.0 174.2,301.5"/>
<path d="M166.2,304 Q170.2,305.5 174.2,304"/>
<path d="M166.2,306.5 Q170.2,308.0 174.2,306.5"/>
<path d="M166.2,309 Q170.2,310.5 174.2,309"/>
<polygon points="156.6,274.4 156.8,273.6 157.1,272.8 157.6,272 158.2,271.2 158.9,270.5 159.8,269.8 160.7,269.3 161.8,268.8 162.9,268.4 164.1,268.1 165.3,267.9 166.6,267.9 167.8,267.9 169,268 170.1,268.3 171.2,268.7 172.1,269.1 173,269.6 173.8,270.3 174.4,271 174.9,271.7 175.2,272.5 175.3,273.3 175.7,277.5 175.8,278.4 175.6,279.2 175.3,280 174.8,280.8 174.2,281.6 173.5,282.3 172.6,283 171.7,283.5 170.6,284 169.5,284.4 168.3,284.7 167.1,284.9 165.8,284.9 164.6,284.9 163.4,284.8 162.3,284.5 161.2,284.1 160.3,283.7 159.4,283.2 158.6,282.5 158,281.8 157.5,281.1 157.2,280.3 157.1,279.5 156.7,275.3" fill="#fff"/>
<ellipse cx="166" cy="274.3" rx="9.4" ry="6.4" fill="#fff" transform="rotate(-6 166 274.3)"/>
<line x1="160.3" y1="269.6" x2="171.2" y2="277.8"/>
<line x1="161.3" y1="268.4" x2="172.2" y2="276.6"/>
<line x1="172.1" y1="315.2" x2="174.4" y2="336.8"/>
<polyline points="174.4,336.8 280,261.5" stroke-dasharray="41.4 2.6 2 2.6 131.1 1"/>
<ellipse cx="251.6" cy="489.4" rx="12.4" ry="12.3" fill="#fff"/>
<polygon points="166,358 169.5,368 174,379 181.8,389.4 192.1,399.8 200.2,404.4 210.5,410.1 220.2,417.5 227.5,427.2 232.1,438.7 236.7,450.2 241.3,461.6 245.9,474.3 247.1,477.3 251.6,480 264.3,488 263.7,478.9 260.8,465.1 256.2,452.5 250.5,438.7 243.6,424.9 235.6,410 228.9,398.6 222,391.7 213.9,387.1 209.4,381.4 204.2,369.9" class="n" fill="#fff"/>
<path d="M166,358 C166.6,359.7 168.2,364.5 169.5,368 C170.8,371.5 171.9,375.4 174,379 C176.1,382.6 178.8,385.9 181.8,389.4 C184.8,392.9 189,397.3 192.1,399.8 C195.2,402.3 197.1,402.7 200.2,404.4 C203.3,406.1 207.2,407.9 210.5,410.1 C213.8,412.3 217.4,414.6 220.2,417.5 C223,420.4 225.5,423.7 227.5,427.2 C229.5,430.7 230.6,434.9 232.1,438.7 C233.6,442.5 235.2,446.4 236.7,450.2 C238.2,454 239.8,457.6 241.3,461.6 C242.8,465.6 244.9,471.7 245.9,474.3 C246.9,476.9 246.9,476.8 247.1,477.3"/>
<path d="M204.2,369.9 C205.1,371.8 207.8,378.5 209.4,381.4 C211,384.3 211.8,385.4 213.9,387.1 C216,388.8 219.5,389.8 222,391.7 C224.5,393.6 226.6,395.6 228.9,398.6 C231.2,401.7 233.2,405.6 235.6,410 C238,414.4 241.1,420.1 243.6,424.9 C246.1,429.7 248.4,434.1 250.5,438.7 C252.6,443.3 254.5,448.1 256.2,452.5 C257.9,456.9 259.6,460.7 260.8,465.1 C262.1,469.5 263.1,475.1 263.7,478.9 C264.3,482.7 264.2,486.5 264.3,488"/>
<path d="M169.8,358.4 C171,360.5 174.6,367.3 177.2,371.1 C179.8,374.9 182.4,378.3 185.3,381.4 C188.2,384.4 191,387.1 194.4,389.4 C197.8,391.7 202.5,393.3 205.9,395.2 C209.3,397.1 212,398.4 215.1,400.9 C218.2,403.4 221.5,406.8 224.5,410 C227.5,413.2 230.4,416.4 233,420 C235.6,423.6 237.8,427.5 240.2,431.8 C242.5,436.1 245.2,441.2 247.1,445.6 C249,450 250.5,454.4 251.6,458.2 C252.7,462 253.2,465.9 253.6,468.5 C254,471.1 253.8,472.7 253.9,473.5"/>
<path d="M253.9,473.5 Q253.5,476.5 249,477.2 L247.1,477.3"/>
<polygon points="161.3,346.2 157.5,348.5 156.3,352.5 156.6,358 157.5,362.5 158.5,366.5 160.5,369.2 163.5,371 166,371.3 167.5,369 168,362 166.9,357 163,352" fill="#fff"/>
<polygon points="161.5,350 164.3,351.6 166.9,355.6 164,354"/>
<polyline points="157,358.5 161.5,361 166.5,360.2"/>
<line x1="161.5" y1="361" x2="162.8" y2="370.5"/>
<polygon points="157.5,324.3 163.2,321.1 170.7,326.5 170.7,328 167.6,330.5 168.2,333 171.3,334.3 170.7,340.6 162.5,345.6 161.5,345.2" fill="#fff"/>
<line x1="158.9" y1="325.3" x2="162.3" y2="344.6"/>
<path d="M162.6,346 L173,340.8 L182.1,340.8 Q186.5,342.5 187.3,344.8 L189.6,349.4 L189.6,342.5 L195.9,341.4 Q198,336.5 200.5,334.5 Q204.5,331.8 209.7,332.2 Q214.5,333 216,335.1 Q217.5,338 217.1,341.4 L217.1,349.4 Q214.5,351.5 210.8,352.9 Q207,355 204.5,358.6 L196,360 L175,360 L166.5,357 Z" fill="#fff"/>
<path d="M189.6,349.4 Q191,352 193,354"/>
<ellipse cx="177.5" cy="347.1" rx="5.1" ry="3.6" fill="#fff" transform="rotate(-5 177.5 347.1)"/>
<ellipse cx="208" cy="339.7" rx="5.1" ry="3.6" fill="#fff" transform="rotate(-12 208 339.7)"/>
<polygon points="181.9,367.3 182,366.5 182.3,365.6 182.7,364.9 183.3,364.1 184.1,363.4 185,362.8 186,362.2 187.2,361.8 188.4,361.4 189.8,361.1 191.1,361 192.5,360.9 193.9,361 195.2,361.1 196.6,361.4 197.8,361.8 199,362.2 200,362.8 200.9,363.4 201.7,364.1 202.3,364.9 202.7,365.6 203,366.5 203.1,367.3 203.1,373 203,373.8 202.7,374.7 202.3,375.4 201.7,376.2 200.9,376.9 200,377.5 199,378.1 197.8,378.5 196.6,378.9 195.2,379.2 193.9,379.3 192.5,379.4 191.1,379.3 189.8,379.2 188.4,378.9 187.2,378.5 186,378.1 185,377.5 184.1,376.9 183.3,376.2 182.7,375.4 182.3,374.7 182,373.8 181.9,373" fill="#fff"/>
<ellipse cx="192.5" cy="373" rx="10.6" ry="6.4" fill="#fff"/>
<line x1="202.9" y1="368.8" x2="202.9" y2="374.1" class="t"/>
<line x1="202.3" y1="370" x2="202.3" y2="375.3" class="t"/>
<line x1="201.3" y1="371.2" x2="201.3" y2="376.5" class="t"/>
<line x1="200" y1="372.1" x2="200" y2="377.4" class="t"/>
<line x1="198.4" y1="372.9" x2="198.4" y2="378.2" class="t"/>
<line x1="196.6" y1="373.5" x2="196.6" y2="378.8" class="t"/>
<line x1="194.6" y1="373.9" x2="194.6" y2="379.2" class="t"/>
<line x1="192.5" y1="374" x2="192.5" y2="379.3" class="t"/>
<line x1="190.4" y1="373.9" x2="190.4" y2="379.2" class="t"/>
<line x1="188.4" y1="373.5" x2="188.4" y2="378.8" class="t"/>
<line x1="186.6" y1="372.9" x2="186.6" y2="378.2" class="t"/>
<line x1="185" y1="372.1" x2="185" y2="377.4" class="t"/>
<line x1="183.7" y1="371.2" x2="183.7" y2="376.5" class="t"/>
<line x1="182.7" y1="370" x2="182.7" y2="375.3" class="t"/>
<line x1="182.1" y1="368.8" x2="182.1" y2="374.1" class="t"/>
<polygon points="181.1,359.4 181.2,358.5 181.5,357.6 182,356.8 182.6,355.9 183.5,355.2 184.4,354.5 185.6,353.9 186.8,353.4 188.1,353 189.5,352.7 191,352.6 192.5,352.5 194,352.6 195.5,352.7 196.9,353 198.2,353.4 199.4,353.9 200.6,354.5 201.5,355.2 202.4,355.9 203,356.8 203.5,357.6 203.8,358.5 203.9,359.4 203.9,367.3 203.8,368.2 203.5,369.1 203,369.9 202.4,370.8 201.5,371.5 200.6,372.2 199.4,372.8 198.2,373.3 196.9,373.7 195.5,374 194,374.1 192.5,374.2 191,374.1 189.5,374 188.1,373.7 186.8,373.3 185.6,372.8 184.4,372.2 183.5,371.5 182.6,370.8 182,369.9 181.5,369.1 181.2,368.2 181.1,367.3" fill="#fff"/>
<ellipse cx="192.5" cy="359.4" rx="11.4" ry="6.9" fill="#fff"/>
<line x1="189.8" y1="404.4" x2="216.8" y2="385.4" class="h"/>
<polyline points="216.8,385.4 291.5,331.8" stroke-dasharray="65 2.6 2 2.6 69.7 1"/>
<line x1="189.8" y1="404.4" x2="190.4" y2="417"/>
<polygon points="184.5,424 184.8,432 188,435 195.5,435 198.6,432 198.8,424" fill="#fff"/>
<line x1="188" y1="427.5" x2="188" y2="435"/>
<line x1="195.5" y1="427.5" x2="195.5" y2="435"/>
<polygon points="182.4,420.4 182.5,419.7 182.7,419.1 183.1,418.4 183.6,417.8 184.3,417.2 185.1,416.7 186,416.3 187,415.9 188.1,415.6 189.2,415.4 190.4,415.2 191.6,415.2 192.8,415.2 194,415.4 195.1,415.6 196.2,415.9 197.2,416.3 198.1,416.7 198.9,417.2 199.6,417.8 200.1,418.4 200.5,419.1 200.7,419.7 200.8,420.4 200.8,423.2 200.7,423.9 200.5,424.5 200.1,425.2 199.6,425.8 198.9,426.4 198.1,426.9 197.2,427.3 196.2,427.7 195.1,428 194,428.2 192.8,428.4 191.6,428.4 190.4,428.4 189.2,428.2 188.1,428 187,427.7 186,427.3 185.1,426.9 184.3,426.4 183.6,425.8 183.1,425.2 182.7,424.5 182.5,423.9 182.4,423.2" fill="#fff"/>
<ellipse cx="191.6" cy="420.4" rx="9.2" ry="5.2" fill="#fff"/>
<ellipse cx="191.6" cy="420.4" rx="3.2" ry="2" fill="#fff"/>
<line x1="190.4" y1="417" x2="191.2" y2="420.6"/>
<polygon points="290.6,459.1 319.4,440.2 334.1,450.9 340.3,455 340.6,471 311.7,491.8 297,484.9 291.5,476 291,462" fill="#fff"/>
<polyline points="290.6,459.1 306.5,472 334.1,450.9"/>
<line x1="306.5" y1="472" x2="311.7" y2="491.8"/>
<polyline points="307.5,474.8 335.5,454 336.5,457.6 308.5,478.2"/>
<line x1="335.5" y1="454" x2="340.3" y2="455"/>
<polyline points="305,449.5 307,447 310,447.5 312.5,444.5 316,443.5"/>
<polygon points="319,472 324.5,467.5 326,481 320.5,485.5" fill="#fff"/>
<polygon points="325.5,466 329.5,463.5 330.5,476 326.5,479" fill="#fff"/>
<polygon points="334.5,458.5 337.3,456.5 339,467 336,469.5" fill="#fff"/>
<line x1="310.5" y1="477" x2="311.5" y2="486"/>
<ellipse cx="322.4" cy="443.4" rx="2.8" ry="1.8" fill="#fff"/>
<ellipse cx="322.4" cy="443.4" rx="1.3" ry="0.9" fill="#fff"/>
<polygon points="321,446.5 324,446 324.5,448.5 321.5,449"/>
<polygon points="304.4,460.8 304.4,460.5 304.5,460.2 304.7,460 304.9,459.7 305.1,459.5 305.4,459.2 305.7,459.1 306.1,458.9 306.5,458.8 306.9,458.7 307.4,458.6 307.8,458.6 308.2,458.6 308.7,458.7 309.1,458.8 309.5,458.9 309.9,459.1 310.2,459.2 310.5,459.5 310.7,459.7 310.9,460 311.1,460.2 311.2,460.5 311.2,460.8 311.2,465.5 311.2,465.8 311.1,466.1 310.9,466.3 310.7,466.6 310.5,466.8 310.2,467.1 309.9,467.2 309.5,467.4 309.1,467.5 308.7,467.6 308.2,467.7 307.8,467.7 307.4,467.7 306.9,467.6 306.5,467.5 306.1,467.4 305.7,467.2 305.4,467.1 305.1,466.8 304.9,466.6 304.7,466.3 304.5,466.1 304.4,465.8 304.4,465.5" fill="#fff"/>
<ellipse cx="307.8" cy="460.8" rx="3.4" ry="2.2" fill="#fff"/>
<polygon points="288.3,479.9 288.4,479.5 288.4,479.2 288.5,478.8 288.7,478.4 288.9,478.1 289.1,477.8 289.4,477.5 289.6,477.2 289.9,477 300.1,470.9 300.4,470.8 300.8,470.6 301.1,470.6 301.4,470.6 301.7,470.6 302,470.7 302.3,470.8 302.6,471 302.8,471.2 303,471.5 303.2,471.8 303.3,472.1 303.4,472.4 303.5,472.8 303.5,473.2 303.4,473.6 303.4,473.9 303.3,474.3 303.1,474.7 302.9,475 302.7,475.3 302.4,475.6 302.2,475.9 301.9,476.1 291.7,482.2 291.4,482.3 291,482.5 290.7,482.5 290.4,482.5 290.1,482.5 289.8,482.4 289.5,482.3 289.2,482.1 289,481.9 288.8,481.6 288.6,481.3 288.5,481 288.4,480.7 288.3,480.3" fill="#fff"/>
<ellipse cx="290.8" cy="479.6" rx="2.4" ry="3" fill="#fff" transform="rotate(20 290.8 479.6)"/>
<polyline points="339.5,457.6 381.5,429.5" stroke-dasharray="14 2.5 2 2.5"/>
<polyline points="341,462.5 383.5,434.3" stroke-dasharray="14 2.5 2 2.5"/>
<polygon points="381.5,419.7 388.4,416.2 399.3,418 401,423.7 400.4,429.4 393,435.2 383.2,433.5 381.5,424.8" fill="#fff"/>
<polyline points="381.5,419.7 393,423.5 399.3,418"/>
<line x1="393" y1="423.5" x2="393" y2="435.2"/>
<polygon points="385.5,419.1 403.9,405.3 407.3,406.5 407.9,408.8 389,421.4" fill="#fff"/>
<line x1="387" y1="420.3" x2="405.5" y2="406.8"/>
<line x1="384" y1="428.5" x2="387.5" y2="430"/>
<line x1="328.1" y1="483.3" x2="330.3" y2="497.3"/>
<polygon points="328.6,533 328.7,532.6 328.8,532.3 329.1,531.9 329.5,531.6 329.9,531.3 330.5,531 331.1,530.8 331.8,530.6 332.6,530.4 333.3,530.3 334.2,530.2 335,530.2 335.8,530.2 336.7,530.3 337.4,530.4 338.2,530.6 338.9,530.8 339.5,531 340.1,531.3 340.5,531.6 340.9,531.9 341.2,532.3 341.3,532.6 341.4,533 341.4,537.5 341.3,537.9 341.2,538.2 340.9,538.6 340.5,538.9 340.1,539.2 339.5,539.5 338.9,539.7 338.2,539.9 337.4,540.1 336.7,540.2 335.8,540.3 335,540.3 334.2,540.3 333.3,540.2 332.6,540.1 331.8,539.9 331.1,539.7 330.5,539.5 329.9,539.2 329.5,538.9 329.1,538.6 328.8,538.2 328.7,537.9 328.6,537.5" fill="#fff"/>
<ellipse cx="335" cy="533" rx="6.4" ry="2.8" fill="#fff"/>
<ellipse cx="335" cy="533" rx="3.2" ry="1.4" fill="#fff"/>
<polygon points="328,525.6 328,525.2 328.2,524.8 328.4,524.5 328.8,524.1 329.2,523.8 329.7,523.5 330.3,523.2 330.9,523 331.6,522.8 332.3,522.7 333,522.6 333.8,522.6 334.6,522.6 335.3,522.7 336,522.8 336.7,523 337.3,523.2 337.9,523.5 338.4,523.8 338.8,524.1 339.2,524.5 339.4,524.8 339.6,525.2 339.6,525.6 339.6,528 339.6,528.4 339.4,528.8 339.2,529.1 338.8,529.5 338.4,529.8 337.9,530.1 337.3,530.4 336.7,530.6 336,530.8 335.3,530.9 334.6,531 333.8,531 333,531 332.3,530.9 331.6,530.8 330.9,530.6 330.3,530.4 329.7,530.1 329.2,529.8 328.8,529.5 328.4,529.1 328.2,528.8 328,528.4 328,528" fill="#fff"/>
<ellipse cx="333.8" cy="525.6" rx="5.8" ry="3" fill="#fff"/>
<ellipse cx="333.8" cy="525.6" rx="3.1" ry="1.6" fill="#fff"/>
<polygon points="327.2,499.5 332.6,498.8 335.8,525.5 331.4,526.2" fill="#fff"/>
<path d="M327.6888888888889,502.0 Q330.3888888888889,503.1 333.1888888888889,501.3"/>
<path d="M328.0777777777778,504.5 Q330.77777777777777,505.6 333.5777777777778,503.8"/>
<path d="M328.4666666666667,507.0 Q331.1666666666667,508.1 333.9666666666667,506.3"/>
<path d="M328.85555555555555,509.5 Q331.55555555555554,510.6 334.35555555555555,508.8"/>
<path d="M329.24444444444447,512.0 Q331.94444444444446,513.1 334.74444444444447,511.3"/>
<path d="M327.2,499.5 Q327.6,497.2 329.8,497 Q332.3,497 332.6,498.8"/>
<ellipse cx="226.8" cy="546" rx="3.2" ry="8.1" fill="#fff"/>
<ellipse cx="222.7" cy="546" rx="3.2" ry="8.1" fill="#fff"/>
<ellipse cx="218.7" cy="546" rx="3.2" ry="8.1" fill="#fff"/>
<ellipse cx="214.7" cy="546" rx="3.2" ry="8.1" fill="#fff"/>
<ellipse cx="210.7" cy="546" rx="3.2" ry="8.1" fill="#fff"/>
<ellipse cx="205.7" cy="544.6" rx="4.2" ry="9.2" fill="#fff"/>
<ellipse cx="199.6" cy="544.6" rx="4.2" ry="10.4" fill="#fff"/>
<ellipse cx="192.6" cy="544.6" rx="4.2" ry="10.9" fill="#fff"/>
<ellipse cx="187.6" cy="544.6" rx="4.2" ry="11.2" fill="#fff"/>
<ellipse cx="183.3" cy="543.9" rx="6.8" ry="11.3" fill="#fff"/>
<ellipse cx="184.2" cy="544.1" rx="3.4" ry="6.6" fill="#fff"/>
<path d="M143.4,599.4 L156,599.4 L161.7,599.4 L176.6,598.9 L175.5,605.2 Q173,609.5 169.8,610.9 L163.5,612.1 L162.9,619.5 L151,620.1 L150.3,613 L141.1,612.1 Z" fill="#fff"/>
<path d="M156,599.4 Q158,598.5 159.4,597.1 L165.2,590.3 L169.8,585.7 Q168.5,580 169.8,578.8 Q170.5,573.5 173.2,571.9 Q176,570 180.1,570.2 L189.3,571.3 Q193,572.5 193.9,575.3 Q195.8,578.5 195,582.2 Q194.5,586.5 192.7,589.1 Q190,592 187,593.7 L179,597.1 Q176.5,598 176.6,598.9 L161.7,599.4 Z" fill="#fff"/>
<path d="M172.3,584.5 Q170.8,577 174,574.3 Q177.5,572.3 181.5,573.6 Q185.5,575.5 185.8,580 Q185,585.5 181,586.8 Z" fill="#fff"/>
<path d="M163.2,599 L171,591.4 L176.5,588.6 L181,587.4"/>
<ellipse cx="189.8" cy="575.9" rx="1.6" ry="1.8" fill="#fff"/>
<ellipse cx="138.8" cy="606.3" rx="7.6" ry="10.2" fill="#fff" transform="rotate(20 138.8 606.3)"/>
<ellipse cx="141" cy="605.8" rx="6.2" ry="8.8" fill="#fff" transform="rotate(20 141 605.8)"/>
<ellipse cx="140.3" cy="606.9" rx="2.3" ry="3.2" fill="#fff" transform="rotate(20 140.3 606.9)"/>
<ellipse cx="168.4" cy="605.5" rx="6" ry="7.8" fill="#fff" transform="rotate(20 168.4 605.5)"/>
<ellipse cx="169.2" cy="605.2" rx="2.3" ry="3.2" fill="#fff" transform="rotate(20 169.2 605.2)"/>
<polygon points="151.5,614 159,614.5 158.5,619.5 151.8,619"/>
<polygon points="152.5,614.8 156.5,615.2 155.5,617 152.8,616.8" fill="#000"/>
<line x1="170.9" y1="607.5" x2="202.5" y2="625.8"/>
<line x1="145.7" y1="610.9" x2="139.1" y2="638.3"/>
<line x1="139.1" y1="638.3" x2="141" y2="638.9"/>
<polygon points="203.6,629.7 203.6,629.2 203.7,628.7 203.9,628.2 204.1,627.7 204.3,627.2 204.6,626.7 204.9,626.3 205.2,625.9 205.5,625.5 205.9,625.2 206.3,624.9 206.7,624.7 207.1,624.6 207.5,624.5 207.8,624.5 208.2,624.5 208.5,624.7 224.4,632.8 224.7,632.9 224.9,633.2 225.1,633.5 225.3,633.8 225.4,634.2 225.5,634.7 225.5,635.2 225.5,635.7 225.4,636.2 225.2,636.7 225,637.2 224.8,637.7 224.5,638.2 224.2,638.6 223.9,639 223.6,639.4 223.2,639.7 222.8,640 222.4,640.2 222,640.3 221.6,640.4 221.3,640.4 220.9,640.4 220.6,640.2 204.7,632.1 204.4,632 204.2,631.7 204,631.4 203.8,631.1 203.7,630.7 203.6,630.2" fill="#fff"/>
<ellipse cx="206.6" cy="628.4" rx="2.6" ry="4.2" fill="#fff" transform="rotate(27 206.6 628.4)"/>
<path d="M212.2,626.8 A2.4,4 27 0 1 208.6,633.9"/>
<path d="M215.1,628.3 A2.4,4 27 0 1 211.5,635.4"/>
<path d="M218,629.7 A2.4,4 27 0 1 214.4,636.9"/>
<path d="M220.9,631.2 A2.4,4 27 0 1 217.3,638.3"/>
<ellipse cx="226.3" cy="639.6" rx="7.2" ry="9.4" fill="#fff" transform="rotate(25 226.3 639.6)"/>
<ellipse cx="227.6" cy="640.3" rx="6.3" ry="8.4" fill="none" transform="rotate(25 227.6 640.3)"/>
<polygon points="228.6,635.5 232,633.6 236.5,636 238,642 235.8,647.8 231.5,649.2 228.2,646" fill="#fff"/>
<ellipse cx="233" cy="642.2" rx="4.6" ry="6.4" fill="#fff" transform="rotate(25 233 642.2)"/>
<line x1="228.6" y1="635.5" x2="230.2" y2="637.4"/>
<line x1="228.2" y1="646" x2="230" y2="645.7"/>
<polygon points="143.5,639.5 160,641 161.1,646.5 151,650.1" fill="#fff"/>
<polyline points="146.5,641 151,649.5"/>
<polyline points="147,641.5 158,643"/>
<polygon points="183.2,650.5 190,652 203.3,657 202,661.5 193,663.1 189,660" fill="#fff"/>
<polyline points="186.5,651.5 190.5,660.5"/>
<polyline points="191,657 202.8,658.5"/>
<path d="M165.1,634 Q161,640 160.1,643.1 Q156.5,650 156.1,655.1 Q156.2,661 158.1,665.2 Q160.5,670.5 164.1,674.2 Q167,678 170.1,680.2 Q174,682.8 178.2,683.2 Q183,683.8 187.2,682.2 Q191,680.5 193.2,677.2 Q195.5,674 196.2,670.2 Q197,666 196.2,662.1 L190.5,659 Q187,658.5 186.2,660.1 Q187.3,663 187.2,666.2 Q187,669.5 185.2,672.2 Q183.3,675.3 180.2,676.2 Q177,676 174.1,674.2 Q171.3,672.3 169.1,669.2 Q167.5,666.5 166.6,663.1 Q166.4,659.5 167.1,655.1 Q167.5,651 170.1,648.1 Z" fill="#fff"/>
<path d="M162,649.5 Q160,656 161,662.5 Q163,669.5 167.5,674.5 Q172,679.5 177.5,681"/>
<polygon points="165.1,671 170.5,670.2 172.1,675.5 167,676.2" fill="#fff"/>
<polygon points="164.1,639 169.5,633 182,637.5 185.2,641 184,642.5 178,641.5 177,648.1 172,648.1 166,646" fill="#fff"/>
<polyline points="169.5,633 169.8,636.5 182,640 182,637.5"/>
<ellipse cx="168.6" cy="640.5" rx="2.5" ry="3" fill="#fff"/>
<polygon points="173,642.5 177,642.8 177.5,647.5 173.5,647.2" fill="#fff"/>
<path d="M386.5,579.1999999999999 L376.1,578.9 Q372.6,579.3 372.6,583.05 Q372.90000000000003,587.2 376.6,587.2 L385.5,587.5" fill="#fff"/>
<path d="M386.0,581.1 L376.6,580.9 Q374.6,581.3 374.6,583.05 Q374.90000000000003,585.2 377.1,585.2 L385.0,585.4000000000001"/>
<polygon points="377.6,581.5 383.5,582.1 382.5,584.7"/>
<path d="M383.5,588.9 L373.2,588.6 Q369.7,589.0 369.7,592.4000000000001 Q370.0,596.2 373.7,596.2 L382.5,596.5" fill="#fff"/>
<path d="M383.0,590.8000000000001 L373.7,590.6 Q371.7,591.0 371.7,592.4000000000001 Q372.0,594.2 374.2,594.2 L382.0,594.4000000000001"/>
<polygon points="374.7,591.2 380.5,591.8 379.5,593.7"/>
<path d="M380,598.8 L368.9,598.5 Q365.4,598.9 365.4,602.45 Q365.7,606.4 369.4,606.4 L379,606.6999999999999" fill="#fff"/>
<path d="M379.5,600.7 L369.4,600.5 Q367.4,600.9 367.4,602.45 Q367.7,604.4 369.9,604.4 L378.5,604.6"/>
<polygon points="370.4,601.1 377,601.7 376,603.9"/>
<path d="M377.4,571.7 Q377.6,570 380,570.5 L392,572.8 L391.5,575.5 L380,573.5 Q378,573.5 377.4,571.7 Z" fill="#fff"/>
<path d="M388,590 Q395,586.5 401,589.5 Q406.5,594 406.5,600 Q405,604.5 399,604.7 L388.5,603.5 Z" fill="#fff"/>
<path d="M390.5,592.5 L403.5,600 L393,602.5 Z"/>
<path d="M396,588 L406,599.5"/>
<ellipse cx="389.8" cy="597" rx="3.6" ry="5.6" fill="#fff"/>
<polygon points="387.1,572.5 395.7,572.8 405,577.8 407.9,579.6 405.8,588.2 390.7,587.2 392.1,578.6" fill="#fff"/>
<polyline points="387.1,572.5 392.1,578.6 407.9,579.6"/>
<polygon points="381.4,606 382.1,605.2 397.9,605.8 397.9,606.9 395.7,615.5 381.4,614.1" fill="#fff"/>
<line x1="382.1" y1="606.2" x2="397.9" y2="606.9"/>
<polygon points="384,576.2 388,577.5 379.8,612.2 376.2,611" fill="#fff"/>
<polygon points="386.5,579.5 388.3,580 387.3,584.5 385.6,584" fill="#000"/>
<polygon points="378.6,607 380.4,607.4 379.6,611.2 377.9,610.8" fill="#000"/>
<polygon points="527.6,717.5 527.7,717 528,716.5 528.5,716 529.1,715.4 529.8,714.9 530.7,714.4 531.7,713.9 532.7,713.5 533.8,713.1 535,712.8 536.3,712.5 537.5,712.2 538.7,712.1 539.9,712 541,712 542.1,712 543.1,712.1 544,712.3 544.8,712.5 545.4,712.8 545.9,713.2 546.2,713.6 546.4,714 549.9,732.5 549.9,733 549.8,733.5 549.5,734 549,734.5 548.4,735.1 547.7,735.6 546.8,736.1 545.8,736.6 544.8,737 543.7,737.4 542.5,737.7 541.2,738 540,738.3 538.8,738.4 537.6,738.5 536.5,738.5 535.4,738.5 534.4,738.4 533.5,738.2 532.7,738 532.1,737.7 531.6,737.3 531.3,736.9 531.1,736.5 527.6,718" fill="#fff"/>
<ellipse cx="537" cy="716" rx="9.6" ry="3.6" fill="#fff" transform="rotate(-12 537 716)"/>
<path d="M529.1,725.5 A9.5,3.4 -12 0 0 547.7,721.5"/>
<path d="M529.7,728.5 A9.5,3.4 -12 0 0 548.3,724.5"/>
<path d="M530.3,731.5 A9.5,3.4 -12 0 0 548.8,727.5"/>
<path d="M530.8,734.5 A9.5,3.4 -12 0 0 549.4,730.5"/>
<polygon points="534.6,736.9 534.7,736.5 534.9,736.2 535.1,735.9 535.5,735.6 535.9,735.3 536.4,735 536.9,734.7 537.5,734.4 538.2,734.2 538.8,734 539.5,733.8 540.2,733.7 541,733.6 541.6,733.6 542.3,733.6 542.9,733.6 543.5,733.7 544,733.8 544.4,733.9 544.8,734.1 545.1,734.3 545.3,734.6 545.4,734.9 545.9,739.9 545.9,740.1 545.8,740.5 545.6,740.8 545.4,741.1 545,741.4 544.6,741.7 544.1,742 543.6,742.3 543,742.6 542.3,742.8 541.7,743 541,743.2 540.3,743.3 539.5,743.4 538.9,743.4 538.2,743.4 537.6,743.4 537,743.3 536.5,743.2 536.1,743.1 535.7,742.9 535.4,742.7 535.2,742.4 535.1,742.1 534.6,737.1" fill="#fff"/>
<ellipse cx="540" cy="736" rx="5.5" ry="2.2" fill="#fff" transform="rotate(-12 540 736)"/>
<polygon points="523.3,710 523.4,709.3 523.8,708.6 524.3,707.9 525,707.2 525.8,706.5 526.8,705.8 527.9,705.2 529.1,704.7 530.5,704.2 531.8,703.8 533.3,703.4 534.7,703.1 536.1,703 537.5,702.9 538.9,702.9 540.1,703 541.3,703.2 542.4,703.5 543.3,703.8 544,704.3 544.6,704.8 545,705.4 545.3,706 545.3,706.6 545.6,711.8 545.5,712.5 545.1,713.2 544.6,713.9 543.9,714.6 543.1,715.3 542.1,716 541,716.6 539.8,717.1 538.4,717.6 537.1,718 535.6,718.4 534.2,718.7 532.8,718.8 531.4,718.9 530,718.9 528.8,718.8 527.6,718.6 526.5,718.3 525.6,718 524.9,717.5 524.3,717 523.9,716.4 523.6,715.8 523.6,715.2" fill="#fff"/>
<ellipse cx="534.3" cy="708.3" rx="11.2" ry="5" fill="#fff" transform="rotate(-12 534.3 708.3)"/>
<line x1="528.5" y1="711.5" x2="529" y2="716.5"/>
<line x1="540.5" y1="707.2" x2="541" y2="712.5"/>
<ellipse cx="534.3" cy="708.3" rx="6.2" ry="2.7" fill="#fff" transform="rotate(-12 534.3 708.3)"/>
<polygon points="527.4,702.2 527.5,701.9 527.6,701.6 527.8,701.3 528.1,701 528.5,700.6 528.9,700.3 529.4,700.1 530,699.8 530.6,699.6 531.2,699.4 531.8,699.3 532.5,699.1 533.1,699.1 533.7,699 534.3,699 534.9,699.1 535.4,699.2 535.9,699.3 536.3,699.5 536.6,699.7 536.9,699.9 537.1,700.2 537.2,700.5 537.9,705 537.9,705.3 537.8,705.6 537.7,705.9 537.5,706.2 537.2,706.5 536.8,706.9 536.4,707.2 535.9,707.4 535.3,707.7 534.7,707.9 534.1,708.1 533.5,708.2 532.8,708.4 532.2,708.4 531.6,708.5 531,708.5 530.4,708.4 529.9,708.3 529.4,708.2 529,708 528.7,707.8 528.4,707.6 528.2,707.3 528.1,707 527.4,702.5" fill="#fff"/>
<ellipse cx="532.3" cy="701.5" rx="5" ry="2.3" fill="#fff" transform="rotate(-12 532.3 701.5)"/>
<polygon points="522,698.4 522.1,697.8 522.3,697.3 522.7,696.7 523.3,696.1 524,695.5 524.7,695 525.6,694.5 526.6,694 527.7,693.6 528.8,693.3 529.9,693 531.1,692.8 532.2,692.6 533.4,692.6 534.4,692.6 535.5,692.7 536.4,692.9 537.3,693.1 538,693.4 538.6,693.8 539.1,694.2 539.4,694.7 539.6,695.2 539.6,695.8 539.8,699.2 539.7,699.8 539.5,700.3 539.1,700.9 538.5,701.5 537.8,702.1 537.1,702.6 536.2,703.1 535.2,703.6 534.1,704 533,704.3 531.9,704.6 530.7,704.8 529.6,705 528.4,705 527.4,705 526.3,704.9 525.4,704.7 524.5,704.5 523.8,704.2 523.2,703.8 522.7,703.4 522.4,702.9 522.2,702.4 522.2,701.8" fill="#fff"/>
<ellipse cx="530.8" cy="697.1" rx="9" ry="4.2" fill="#fff" transform="rotate(-12 530.8 697.1)"/>
<line x1="528.3" y1="697.6" x2="528.8" y2="701.8"/>
<line x1="533.3" y1="696.6" x2="533.8" y2="701.2"/>
<polygon points="521.7,689.5 521.8,689 522,688.6 522.3,688.1 522.7,687.7 523.2,687.3 523.7,686.9 524.4,686.5 525.1,686.1 525.9,685.8 526.7,685.6 527.5,685.4 528.4,685.2 529.2,685.1 530.1,685.1 530.9,685.1 531.6,685.2 532.3,685.3 532.9,685.5 533.5,685.7 533.9,686 534.3,686.4 534.5,686.7 534.7,687.1 535.1,691.1 535.1,691.5 535,692 534.8,692.4 534.5,692.9 534.1,693.3 533.6,693.7 533.1,694.1 532.4,694.5 531.7,694.9 530.9,695.2 530.1,695.4 529.3,695.6 528.4,695.8 527.6,695.9 526.7,695.9 525.9,695.9 525.2,695.8 524.5,695.7 523.9,695.5 523.3,695.3 522.9,695 522.5,694.6 522.3,694.3 522.1,693.9 521.7,689.9" fill="#fff"/>
<ellipse cx="528.2" cy="688.5" rx="6.6" ry="3.2" fill="#fff" transform="rotate(-12 528.2 688.5)"/>
<line x1="525.8" y1="689" x2="526.3" y2="692.5"/>
<line x1="530.6" y1="688" x2="531.1" y2="691.6"/>
<polygon points="529.5,792.9 532.5,743.7 532.6,743.4 532.8,743.1 533.1,742.7 533.6,742.4 534.2,742.1 534.9,741.8 535.7,741.6 536.6,741.3 537.6,741.1 538.6,740.9 539.7,740.8 540.8,740.7 541.9,740.6 543,740.6 544.1,740.7 545.1,740.7 546,740.8 546.9,741 547.6,741.2 548.3,741.4 548.8,741.6 549.1,741.9 549.4,742.2 549.5,742.5 546.5,791.7 546.4,792 546.2,792.3 545.9,792.7 545.4,793 544.8,793.3 544.1,793.6 543.3,793.8 542.4,794.1 541.4,794.3 540.4,794.5 539.3,794.6 538.2,794.7 537.1,794.8 536,794.8 534.9,794.7 533.9,794.7 533,794.6 532.1,794.4 531.4,794.2 530.7,794 530.2,793.8 529.9,793.5 529.6,793.2" fill="#fff"/>
<ellipse cx="541" cy="743.1" rx="8.5" ry="2.4" fill="#fff" transform="rotate(-4 541 743.1)"/>
<ellipse cx="541" cy="743.1" rx="6" ry="1.5" fill="#fff" transform="rotate(-4 541 743.1)"/>
<polygon points="531.5,793.4 543.5,793.4 543.5,800.3 532,800.8" fill="#fff"/>
<polygon points="548.2,828.7 554.7,841.6 563.3,839.1 556,826.2" fill="#fff"/>
<polygon points="532.9,801.6 532.9,801.3 533,800.8 533.2,800.4 533.5,799.9 533.9,799.5 534.4,799 534.9,798.5 535.6,798.1 536.2,797.7 536.9,797.3 537.7,796.9 538.5,796.6 539.2,796.4 540,796.2 540.7,796 541.4,795.9 542.1,795.9 542.7,796 543.3,796 543.7,796.2 544.1,796.4 544.4,796.7 544.6,797 556.4,823.5 556.5,823.9 556.5,824.2 556.4,824.7 556.2,825.1 555.9,825.6 555.5,826 555,826.5 554.5,827 553.8,827.4 553.2,827.8 552.5,828.2 551.7,828.6 550.9,828.9 550.2,829.1 549.4,829.3 548.7,829.5 548,829.6 547.3,829.6 546.7,829.5 546.1,829.5 545.7,829.3 545.3,829.1 545,828.8 544.8,828.5 533,802" fill="#fff"/>
<ellipse cx="538.8" cy="799.5" rx="6.3" ry="2.8" fill="#fff" transform="rotate(-23.4 538.8 799.5)"/>
<path d="M534.7,805.7 A6.3,2.8 -23.4 0 0 546.2,800.7"/>
<path d="M536.3,809.4 A6.3,2.8 -23.4 0 0 547.9,804.4"/>
<path d="M538,813.1 A6.3,2.8 -23.4 0 0 549.5,808.1"/>
<polygon points="552.8,851.1 552.8,849.9 552.9,848.7 553.1,847.5 553.5,846.3 554,845.2 554.6,844.1 555.3,843.1 556,842.2 556.8,841.4 557.7,840.7 558.6,840.2 559.6,839.8 560.5,839.5 561.5,839.5 562.4,839.5 570.4,841.1 571.2,841.4 572.1,841.8 572.8,842.3 573.5,843 574.1,843.7 574.5,844.7 574.9,845.7 575.1,846.7 575.2,847.9 575.2,849.1 575.1,850.3 574.9,851.5 574.5,852.7 574,853.8 573.4,854.9 572.7,855.9 572,856.8 571.2,857.6 570.3,858.3 569.4,858.8 568.4,859.2 567.5,859.5 566.5,859.5 565.6,859.5 557.6,857.9 556.8,857.6 555.9,857.2 555.2,856.7 554.5,856 553.9,855.3 553.5,854.3 553.1,853.3 552.9,852.3" fill="#fff"/>
<ellipse cx="568" cy="850.3" rx="6.9" ry="9.5" fill="#fff" transform="rotate(20 568 850.3)"/>
<ellipse cx="568.2" cy="850.5" rx="3.4" ry="5.6" fill="#fff" transform="rotate(20 568.2 850.5)"/>
<ellipse cx="531" cy="829.5" rx="6" ry="9.5" fill="#fff" transform="rotate(20 531 829.5)"/>
<ellipse cx="531" cy="829.5" rx="3" ry="4.5" fill="#fff" transform="rotate(20 531 829.5)"/>
<line x1="531.5" y1="830" x2="549.5" y2="840.8"/>
<ellipse cx="584.3" cy="861.3" rx="7.4" ry="9.8" fill="#fff" transform="rotate(25 584.3 861.3)"/>
<ellipse cx="584.3" cy="861.3" rx="3.3" ry="5.1" fill="#fff" transform="rotate(25 584.3 861.3)"/>
<line x1="585.5" y1="862" x2="593.7" y2="866.9"/>
<polygon points="596.5,864.6 616,873 612.3,882.3 594.6,873" class="n" fill="#fff"/>
<line x1="596.5" y1="864.6" x2="616" y2="873"/>
<line x1="594.6" y1="873" x2="612.3" y2="882.3"/>
<ellipse cx="596" cy="869" rx="2.3" ry="4.6" fill="#fff" transform="rotate(25 596 869)"/>
<path d="M600.5,866.1 A2.3,4.6 25 0 1 596.7,874.5"/>
<path d="M603.3,867.5 A2.3,4.6 25 0 1 599.5,875.9"/>
<path d="M606.1,868.9 A2.3,4.6 25 0 1 602.3,877.3"/>
<path d="M608.9,870.3 A2.3,4.6 25 0 1 605.1,878.7"/>
<ellipse cx="610.9" cy="873.3" rx="1.8" ry="1.4" fill="#fff" transform="rotate(25 610.9 873.3)"/>
<ellipse cx="619.5" cy="881.3" rx="7.6" ry="11" fill="#fff" transform="rotate(22 619.5 881.3)"/>
<ellipse cx="621.7" cy="882.3" rx="7.6" ry="11" fill="#fff" transform="rotate(22 621.7 882.3)"/>
<ellipse cx="622.5" cy="882.8" rx="6.3" ry="9.3" fill="none" transform="rotate(22 622.5 882.8)"/>
<polygon points="623,880.5 626,878.8 630.4,881 631,886.5 628.5,891 624.5,892 622.4,888" fill="#fff"/>
<line x1="626.5" y1="879.5" x2="627.5" y2="885"/>
<ellipse cx="627" cy="885.2" rx="2.3" ry="2.8" fill="#fff" transform="rotate(22 627 885.2)"/>
<polygon points="38.4,910.6 54.7,885.2 58.5,887.3 58.9,890.5 83.2,877 86.9,879 86.9,898.9 58.9,913.8 58,922.2" fill="#fff"/>
<polyline points="38.4,910.6 42.5,912.3 57.7,888.2"/>
<polyline points="58.9,890.5 58.9,893.5 85.6,880.2 86.9,879"/>
<polyline points="58.9,893.5 58.5,913.8"/>
<text transform="translate(59,912.6) skewY(-26.6) skewX(-10) scale(0.6,1)" font-size="18.6" font-weight="bold" style="stroke:#000;stroke-width:0.6">FWD</text>
<line x1="283.9" y1="63" x2="283.9" y2="84"/>
<line x1="283.9" y1="95.5" x2="283.9" y2="127"/>
<line x1="283.9" y1="134" x2="283.9" y2="166"/>
<line x1="283.9" y1="177" x2="283.9" y2="221"/>
</svg>
</body></html>
